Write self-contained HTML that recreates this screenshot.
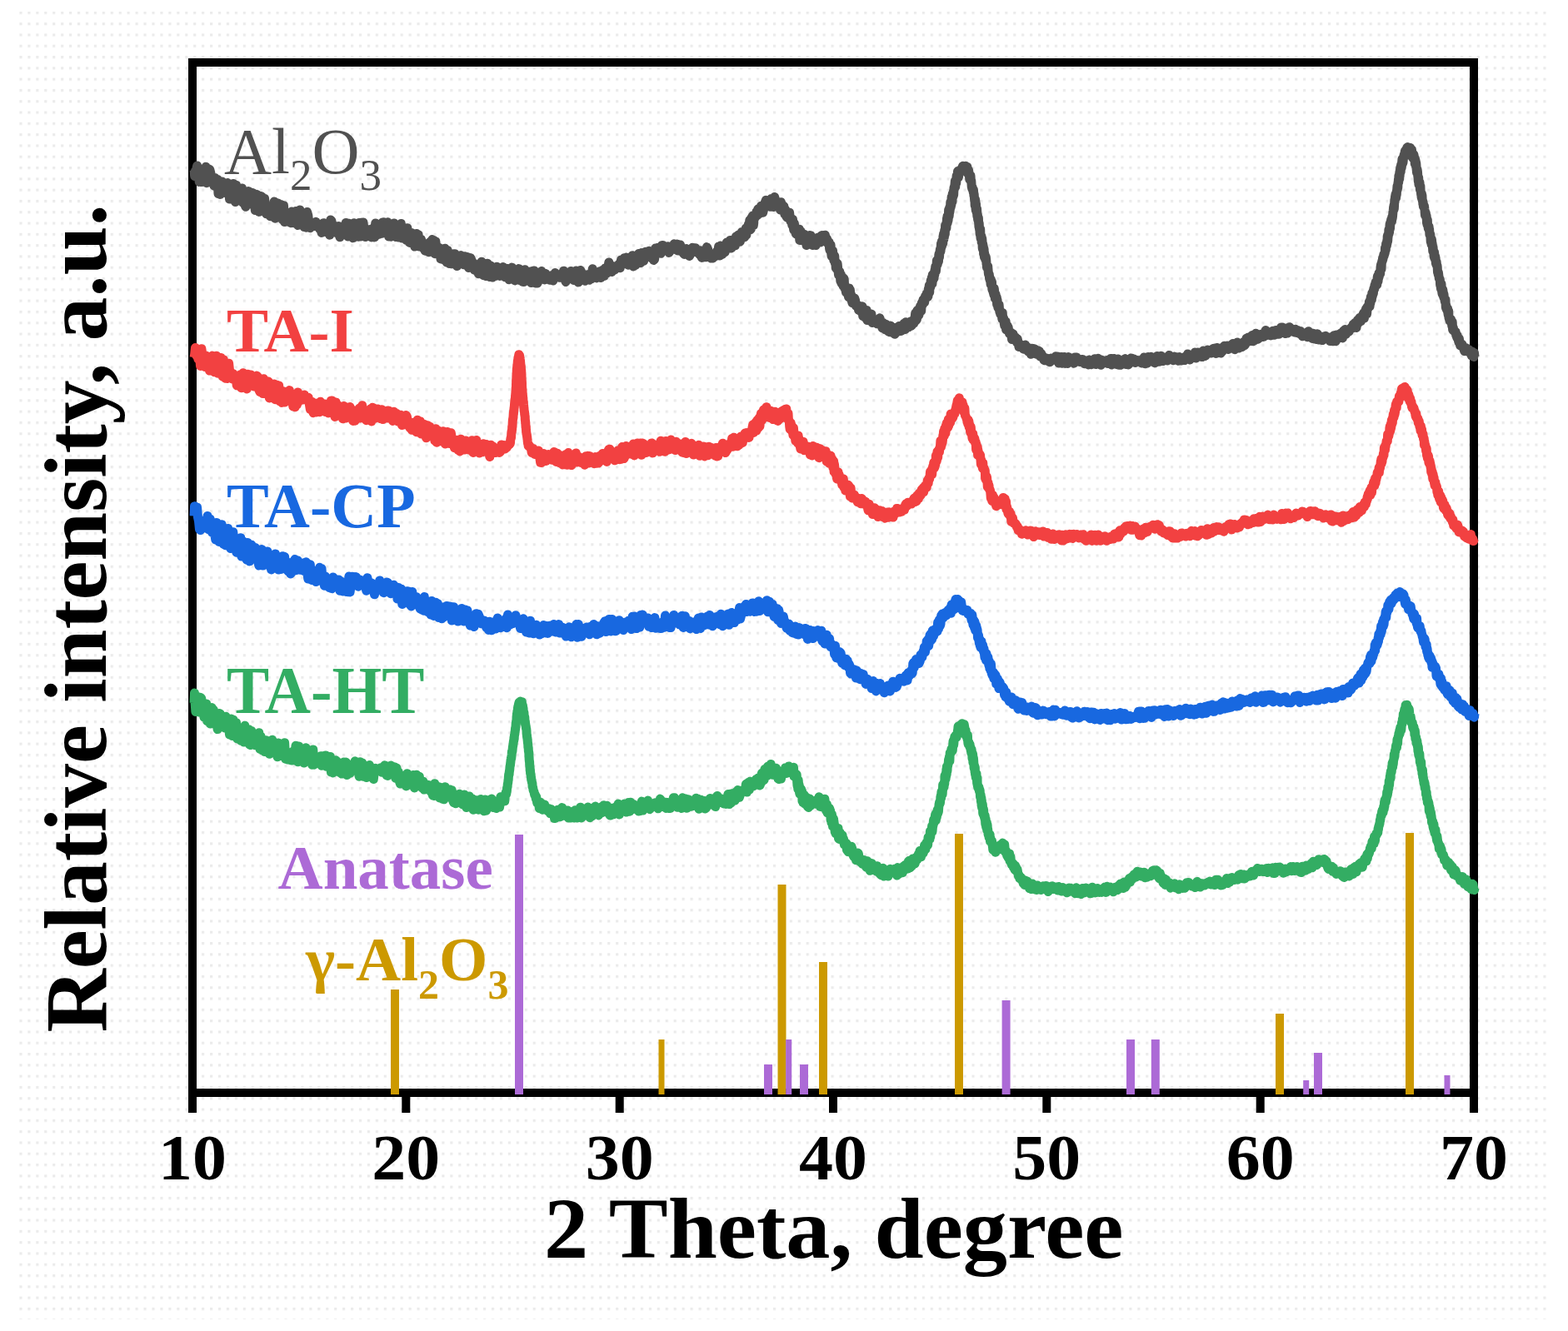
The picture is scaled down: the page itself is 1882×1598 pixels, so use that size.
<!DOCTYPE html>
<html><head><meta charset="utf-8"><style>
html,body{margin:0;padding:0;background:#fff;}
body{width:1882px;height:1598px;position:relative;overflow:hidden;}
svg{position:absolute;left:0;top:0;}
</style></head><body>
<svg width="1882" height="1598" viewBox="0 0 1882 1598">
<defs><pattern id="dots" x="3.5" y="0.5" width="9.94" height="13.3" patternUnits="userSpaceOnUse"><rect width="3.2" height="3.2" fill="#ebebeb"/></pattern></defs>
<rect x="18" y="14" width="1843" height="1570" fill="url(#dots)"/>
<rect x="231" y="75" width="1538" height="1237" fill="none" stroke="#000" stroke-width="10"/>
<rect x="226.0" y="1312" width="10" height="24" fill="#000"/>
<rect x="482.3" y="1312" width="10" height="24" fill="#000"/>
<rect x="738.7" y="1312" width="10" height="24" fill="#000"/>
<rect x="995.0" y="1312" width="10" height="24" fill="#000"/>
<rect x="1251.3" y="1312" width="10" height="24" fill="#000"/>
<rect x="1507.7" y="1312" width="10" height="24" fill="#000"/>
<rect x="1764.0" y="1312" width="10" height="24" fill="#000"/>
<rect x="469.0" y="1188" width="10" height="126" fill="#cc9900"/>
<rect x="790.5" y="1248" width="7" height="66" fill="#cc9900"/>
<rect x="933.5" y="1062" width="10" height="252" fill="#cc9900"/>
<rect x="983.0" y="1155" width="10" height="159" fill="#cc9900"/>
<rect x="1146.0" y="1001" width="10" height="313" fill="#cc9900"/>
<rect x="1531.0" y="1217" width="10" height="97" fill="#cc9900"/>
<rect x="1687.0" y="1000" width="10" height="314" fill="#cc9900"/>
<rect x="618.0" y="1002" width="10" height="312" fill="#ac6ad6"/>
<rect x="917.0" y="1278" width="10" height="36" fill="#ac6ad6"/>
<rect x="943.2" y="1248" width="7" height="66" fill="#ac6ad6"/>
<rect x="960.0" y="1278" width="10" height="36" fill="#ac6ad6"/>
<rect x="1202.6" y="1201" width="10" height="113" fill="#ac6ad6"/>
<rect x="1352.0" y="1248" width="10" height="66" fill="#ac6ad6"/>
<rect x="1381.8" y="1248" width="10" height="66" fill="#ac6ad6"/>
<rect x="1564.2" y="1297" width="7" height="17" fill="#ac6ad6"/>
<rect x="1577.0" y="1264" width="10" height="50" fill="#ac6ad6"/>
<rect x="1733.5" y="1291" width="7" height="23" fill="#ac6ad6"/>
<path d="M233.0 204.1L233.7 211.4 234.5 204.9 235.5 204.3 236.6 199.0 237.9 205.9 239.2 218.4 240.5 212.6 241.9 218.6 243.3 212.0 244.7 213.9 246.0 212.7 246.9 200.3 247.9 219.7 248.8 217.2 249.8 217.8 250.8 202.9 251.8 203.6 252.8 207.6 253.8 212.0 254.9 219.6 255.9 217.3 256.9 223.0 257.9 213.5 259.0 222.6 260.0 224.0 261.0 215.4 262.0 232.7 263.1 227.3 264.3 233.4 265.4 218.4 266.5 217.9 267.6 221.9 268.8 224.5 269.9 231.4 271.0 228.6 272.2 223.3 273.3 219.5 274.4 223.7 275.5 239.0 276.7 222.4 277.8 231.9 278.9 233.9 280.1 220.5 281.2 231.9 282.4 242.5 283.5 222.3 284.6 230.6 285.8 233.0 286.9 227.7 288.1 239.1 289.2 235.1 290.4 225.9 291.5 243.4 292.7 242.6 293.8 245.4 294.9 248.3 296.1 241.6 297.2 240.1 298.4 229.6 299.5 245.0 300.6 235.6 301.8 237.3 302.9 231.4 304.0 234.1 305.2 238.0 306.3 252.6 307.4 233.2 308.6 233.6 309.7 245.9 310.8 254.4 312.0 249.5 313.1 235.5 314.2 236.0 315.4 249.1 316.5 241.0 317.6 238.4 318.8 255.4 319.9 256.9 321.0 249.9 322.2 251.0 323.3 253.0 324.5 259.8 325.6 255.4 326.7 255.0 327.9 255.7 329.0 242.1 330.2 262.2 331.3 260.3 332.5 257.5 333.6 244.1 334.7 249.4 335.9 261.3 337.0 245.5 338.2 254.3 339.3 264.0 340.5 246.8 341.6 266.6 342.8 261.6 344.1 256.5 345.3 260.5 346.5 263.3 347.7 259.5 348.9 267.7 350.2 254.1 351.4 256.2 352.6 267.7 353.8 260.2 355.0 253.5 356.3 267.8 357.5 270.5 358.7 257.8 360.0 252.0 361.2 260.9 362.4 261.1 363.7 260.3 364.9 272.5 366.1 255.5 367.3 273.2 368.6 254.6 369.8 258.5 371.0 269.6 372.3 273.7 373.5 272.1 374.6 268.6 375.8 267.4 376.9 267.9 378.0 271.5 379.2 266.3 380.3 270.1 381.4 272.7 382.6 268.9 383.7 275.0 384.9 273.9 386.0 279.4 387.1 272.9 388.3 267.7 389.4 268.4 390.6 271.5 391.9 278.8 393.1 269.8 394.3 275.5 395.6 282.2 396.8 264.0 398.0 265.3 399.2 275.7 400.5 277.1 401.7 276.2 402.9 271.6 404.2 279.8 405.4 277.3 406.6 271.6 407.9 284.8 409.1 278.4 410.3 271.9 411.5 275.4 412.7 274.6 414.0 275.9 415.2 267.4 416.4 273.0 417.6 284.0 418.9 268.2 420.1 276.3 421.3 283.7 422.5 283.0 423.7 285.8 425.0 267.7 426.2 274.2 427.4 274.2 428.6 281.0 429.9 284.3 431.1 267.4 432.3 284.1 433.5 267.2 434.7 281.0 436.0 267.1 437.2 277.3 438.4 284.5 439.7 274.9 440.9 277.3 442.1 281.6 443.4 277.0 444.6 275.3 445.8 284.9 447.0 283.4 448.3 273.9 449.5 284.9 450.7 267.9 452.0 282.5 453.2 274.1 454.4 276.9 455.7 280.9 456.9 277.4 458.1 280.3 459.3 266.9 460.5 266.8 461.8 279.8 463.0 268.7 464.2 268.2 465.4 266.7 466.7 284.1 467.9 280.6 469.1 284.2 470.3 269.1 471.5 275.7 472.8 267.9 474.0 281.2 475.2 284.6 476.4 270.0 477.7 284.9 478.9 283.3 480.1 275.6 481.3 268.5 482.5 286.1 483.8 277.2 485.0 274.3 486.0 281.6 487.0 282.2 488.0 288.6 488.9 273.7 489.9 289.2 490.9 290.7 491.8 291.5 492.8 282.5 493.8 279.5 494.8 292.3 495.8 286.9 496.8 287.8 497.8 296.1 498.9 286.6 499.9 280.5 501.0 287.0 502.1 281.7 503.2 296.1 504.3 293.2 505.5 287.3 506.6 291.8 507.8 297.8 509.0 293.0 510.2 301.2 511.4 292.8 512.6 300.5 513.8 302.3 515.0 302.7 516.3 290.3 517.5 301.2 518.7 287.6 520.0 289.3 521.0 288.7 521.9 304.7 522.9 290.1 523.9 298.8 524.9 298.3 525.9 300.2 526.9 297.2 528.0 303.4 529.0 310.9 530.0 303.7 531.0 307.7 532.1 311.6 533.1 304.5 534.1 298.3 535.2 303.6 536.2 315.0 537.2 300.5 538.2 305.4 539.3 316.5 540.3 315.7 541.3 311.0 542.5 316.8 543.7 313.1 544.8 304.8 546.0 304.8 547.2 309.1 548.4 319.5 549.5 310.2 550.7 308.3 551.9 309.4 553.1 306.6 554.3 314.2 555.4 307.6 556.6 317.8 557.8 307.7 559.0 318.1 560.1 312.1 561.3 308.6 562.5 321.5 563.7 315.5 564.9 309.7 566.0 312.5 567.2 320.3 568.4 315.9 569.6 324.2 570.8 324.4 572.0 324.3 573.1 322.6 574.3 328.8 575.5 325.5 576.7 324.6 577.9 314.2 579.1 328.1 580.3 330.7 581.4 321.3 582.6 320.6 583.8 331.6 585.0 316.3 586.3 327.3 587.5 332.4 588.8 319.0 590.0 329.3 591.3 333.0 592.5 324.6 593.8 329.0 595.0 331.3 596.3 320.2 597.5 325.4 598.8 327.9 600.0 331.4 601.3 326.2 602.5 325.4 603.8 320.5 605.0 324.8 606.2 332.7 607.4 328.0 608.5 322.4 609.7 322.7 610.9 335.7 612.1 335.2 613.3 332.4 614.5 321.1 615.6 332.7 616.8 332.1 618.0 336.9 619.2 332.2 620.4 329.4 621.6 333.1 622.8 322.6 623.9 336.6 625.1 332.5 626.3 326.5 627.5 338.4 628.8 338.6 630.0 323.7 631.3 327.4 632.5 333.3 633.8 332.8 635.0 329.4 636.3 326.1 637.5 339.5 638.8 338.4 640.0 325.2 641.3 325.0 642.5 339.9 643.8 338.5 645.0 340.1 646.3 337.5 647.5 327.7 648.8 334.4 650.0 325.5 651.3 328.5 652.5 332.5 653.8 335.9 655.0 328.5 656.3 332.0 657.5 335.4 658.8 334.9 660.0 336.3 661.3 333.8 662.5 330.6 663.8 337.0 665.0 332.7 666.3 327.6 667.5 328.7 668.8 332.3 670.1 331.7 671.3 333.2 672.6 332.3 673.9 333.3 675.2 331.6 676.5 325.2 677.8 334.8 679.1 338.5 680.4 334.9 681.6 331.4 682.9 335.0 684.1 327.0 685.4 325.4 686.6 332.8 687.7 327.1 688.9 336.6 690.0 326.2 691.4 325.1 692.8 326.2 694.1 338.9 695.4 329.5 696.6 324.4 697.9 326.9 699.1 333.9 700.2 333.5 701.4 331.5 702.6 337.3 703.7 334.0 704.9 329.7 706.0 332.9 707.3 336.3 708.7 334.6 710.0 334.7 711.2 322.8 712.5 327.8 713.8 332.5 715.0 326.5 716.2 333.9 717.4 331.0 718.6 332.4 719.8 325.8 721.0 333.5 722.1 333.0 723.1 324.4 724.2 325.5 725.2 331.3 726.3 321.9 727.4 328.0 728.4 328.0 729.6 322.1 730.8 315.0 732.0 322.0 733.1 322.6 734.3 326.5 735.4 324.3 736.6 319.8 737.9 324.1 739.1 322.0 740.4 319.9 741.7 318.8 743.0 316.9 744.2 321.7 745.5 311.9 746.8 313.9 748.0 317.0 749.2 309.8 750.5 313.9 751.7 309.1 752.9 311.8 754.2 318.2 755.4 317.8 756.6 314.0 757.8 312.7 759.1 306.7 760.3 319.9 761.5 315.6 762.8 318.3 764.0 307.2 765.2 310.6 766.5 304.5 767.7 315.2 768.9 315.7 770.2 303.6 771.4 309.8 772.6 313.2 773.9 302.7 775.1 302.3 776.3 303.0 777.6 305.0 778.8 301.3 780.0 307.8 781.1 308.5 782.2 310.1 783.4 310.0 784.5 312.4 785.6 311.4 786.7 297.9 787.8 301.4 788.9 297.9 790.0 297.3 791.1 302.1 792.2 302.1 793.4 304.3 794.5 294.6 795.6 294.4 796.8 300.6 798.0 299.4 799.3 298.6 800.5 299.7 801.7 295.8 803.0 303.4 804.2 301.5 805.4 299.0 806.7 295.9 807.9 298.5 809.1 292.8 810.4 294.3 811.6 299.8 812.8 293.1 814.1 301.0 815.3 301.0 816.5 294.0 817.7 299.6 818.9 299.7 820.2 304.2 821.4 305.4 822.6 302.4 823.8 298.4 825.0 302.4 826.3 303.1 827.5 307.5 828.7 305.2 830.0 299.9 831.2 297.2 832.4 301.7 833.7 299.7 834.9 297.7 836.1 302.8 837.3 300.7 838.6 303.7 839.8 305.8 841.0 300.8 842.3 309.4 843.5 301.1 844.7 308.5 846.0 303.5 847.2 308.8 848.4 296.6 849.6 299.3 850.8 304.6 852.1 306.5 853.3 310.0 854.5 305.2 855.7 309.9 856.9 307.3 858.2 308.0 859.4 305.4 860.5 301.6 861.5 304.6 862.6 295.9 863.7 307.0 864.7 295.1 865.8 301.0 866.9 305.4 867.9 297.1 869.0 297.6 870.1 302.8 871.1 296.2 872.2 291.1 873.3 295.8 874.3 296.7 875.4 296.6 876.4 288.4 877.4 298.1 878.4 297.4 879.4 290.4 880.4 291.1 881.4 286.8 882.4 294.7 883.4 284.1 884.3 290.4 885.3 283.8 886.3 281.9 887.3 288.3 888.3 290.2 889.3 282.9 890.3 278.5 891.3 285.1 892.1 280.0 892.8 280.9 893.6 284.8 894.4 283.3 895.2 274.0 895.9 282.0 896.7 274.7 897.5 277.6 898.3 269.3 899.1 271.4 899.8 264.2 900.6 275.8 901.4 274.8 902.1 261.2 902.9 260.0 903.6 259.0 904.4 270.3 905.1 261.0 905.8 262.1 906.5 259.9 907.2 260.0 908.0 254.0 908.9 258.5 909.7 251.0 910.5 255.8 911.2 256.6 912.0 256.3 912.8 251.7 913.5 247.3 914.3 251.6 915.0 247.4 915.7 255.2 916.5 251.9 917.2 246.6 917.9 244.0 918.6 242.2 919.3 240.3 920.0 242.7 921.3 245.1 922.5 245.5 923.6 245.2 924.7 248.3 925.9 238.4 927.0 242.0 928.3 248.5 929.6 236.5 931.0 240.9 931.7 244.8 932.5 245.3 933.2 247.1 934.0 244.6 934.9 248.3 935.7 247.5 936.5 251.9 937.4 242.8 938.3 245.5 939.1 250.9 940.0 246.8 940.9 247.7 941.8 257.1 942.7 251.8 943.5 259.3 944.4 260.9 945.3 259.9 946.2 262.0 947.0 260.1 947.6 255.3 948.3 262.3 948.9 265.6 949.6 261.8 950.2 265.0 950.8 270.3 951.5 263.4 952.1 272.1 952.8 276.2 953.4 268.5 954.0 273.2 954.7 272.9 955.3 280.9 956.0 277.5 956.6 281.5 957.2 274.8 957.9 279.2 958.5 280.3 959.2 275.2 959.8 288.4 960.4 287.6 961.1 277.8 961.7 288.4 962.4 284.8 963.0 288.2 964.2 288.7 965.5 281.5 966.7 287.1 968.0 294.6 969.2 285.9 970.5 283.8 971.7 282.6 973.0 282.7 974.2 290.2 975.4 294.5 976.6 290.5 977.8 289.6 979.0 294.6 980.3 286.1 981.6 285.3 982.9 291.1 984.2 291.0 985.5 283.3 986.8 282.5 988.1 289.5 989.3 289.4 990.4 282.3 991.5 287.7 992.6 286.6 993.5 292.2 994.1 290.1 994.6 291.1 995.1 290.6 995.6 298.4 996.0 300.3 996.4 293.7 996.7 300.7 997.1 294.2 997.4 299.4 997.7 304.0 998.1 307.7 998.4 301.2 998.8 304.1 999.2 306.8 999.6 301.2 1000.0 308.7 1000.5 306.8 1000.9 312.8 1001.3 306.7 1001.7 307.2 1002.1 314.4 1002.5 316.6 1002.9 313.9 1003.3 321.9 1003.8 317.5 1004.2 317.1 1004.6 323.5 1005.1 316.4 1005.5 320.3 1006.0 324.7 1006.5 330.0 1007.0 326.4 1007.4 329.8 1007.9 326.5 1008.4 332.2 1008.9 337.8 1009.4 329.9 1009.9 340.1 1010.5 332.3 1011.0 336.6 1011.5 338.4 1012.1 343.5 1012.6 334.0 1013.2 335.1 1013.7 344.9 1014.3 346.9 1014.9 347.2 1015.5 351.2 1016.1 347.4 1016.7 348.8 1017.3 353.0 1017.9 351.5 1018.5 356.6 1019.1 346.1 1019.7 351.2 1020.4 348.2 1021.0 358.8 1021.7 354.3 1022.3 361.3 1023.0 363.8 1023.6 359.0 1024.3 358.9 1025.0 358.7 1025.8 358.2 1026.5 360.2 1027.3 367.1 1028.1 365.3 1028.9 366.5 1029.8 366.4 1030.6 372.4 1031.5 371.5 1032.3 369.5 1033.2 374.2 1034.0 371.4 1034.9 367.8 1035.7 379.6 1036.6 376.9 1037.5 371.4 1038.3 381.4 1039.2 378.9 1040.1 372.5 1040.9 384.5 1041.8 381.1 1042.6 384.3 1043.7 382.0 1044.8 381.2 1045.9 377.1 1047.0 387.6 1048.2 384.0 1049.3 383.2 1050.4 386.5 1051.5 385.8 1052.6 388.8 1053.7 384.7 1054.8 386.6 1055.9 381.8 1057.0 385.8 1058.0 391.0 1059.0 393.9 1060.0 387.4 1061.2 389.1 1062.4 395.7 1063.5 389.5 1064.6 394.8 1065.7 397.6 1066.8 393.1 1067.8 398.8 1068.9 391.1 1069.9 395.6 1070.9 394.8 1072.0 396.0 1073.0 400.6 1074.0 401.3 1075.3 393.3 1076.6 393.7 1077.8 398.1 1079.0 391.5 1080.2 397.6 1081.4 397.5 1082.6 393.5 1083.8 396.2 1085.1 388.2 1086.4 395.6 1087.2 386.8 1088.1 388.5 1089.0 388.4 1089.8 388.3 1090.7 392.8 1091.6 388.8 1092.5 386.1 1093.4 389.0 1094.3 391.0 1095.2 385.0 1096.1 385.5 1097.0 388.0 1097.9 383.0 1098.7 375.8 1099.6 384.7 1100.4 383.5 1101.0 372.6 1101.6 376.5 1102.2 377.4 1102.8 378.6 1103.4 376.3 1104.0 371.5 1104.6 367.4 1105.1 370.8 1105.7 373.4 1106.3 363.9 1106.9 362.9 1107.4 365.8 1108.0 359.7 1108.6 362.5 1109.1 360.6 1109.7 362.9 1110.2 357.1 1110.7 355.2 1111.2 356.0 1111.7 356.1 1112.2 352.5 1112.7 354.0 1113.2 355.8 1113.6 356.4 1114.0 355.6 1114.4 346.5 1114.9 346.8 1115.3 342.4 1115.7 351.0 1116.1 342.1 1116.4 343.7 1116.8 344.7 1117.2 336.7 1117.6 342.2 1117.9 339.1 1118.3 333.2 1118.6 338.1 1119.0 340.4 1119.3 329.7 1119.7 336.6 1120.0 333.1 1120.4 333.0 1120.7 331.7 1121.1 333.7 1121.4 326.8 1121.8 329.9 1122.1 323.7 1122.4 327.0 1122.8 319.8 1123.1 321.4 1123.4 325.5 1123.8 321.2 1124.1 317.7 1124.4 312.7 1124.7 312.9 1125.0 315.5 1125.3 317.2 1125.6 314.1 1125.9 313.2 1126.2 309.9 1126.5 313.6 1126.8 306.1 1127.2 304.3 1127.5 308.6 1127.8 304.2 1128.1 301.6 1128.4 299.2 1128.7 299.3 1129.0 301.5 1129.2 299.4 1129.5 292.2 1129.8 297.3 1130.1 295.2 1130.4 289.5 1130.6 295.2 1130.9 289.9 1131.2 288.5 1131.5 291.7 1131.8 292.2 1132.0 283.6 1132.3 286.7 1132.6 280.5 1132.9 287.4 1133.2 279.5 1133.4 284.7 1133.7 276.5 1134.0 280.8 1134.3 281.3 1134.6 270.5 1134.8 272.4 1135.1 274.7 1135.4 271.2 1135.7 267.9 1135.9 274.0 1136.2 268.3 1136.5 262.1 1136.7 268.9 1137.0 259.6 1137.3 267.5 1137.6 259.8 1137.8 261.3 1138.1 264.2 1138.4 258.7 1138.6 252.3 1138.9 251.1 1139.2 259.0 1139.4 256.1 1139.7 249.0 1140.0 254.1 1140.2 251.5 1140.5 250.9 1140.8 242.5 1141.0 244.8 1141.3 248.2 1141.6 246.3 1141.9 245.7 1142.1 236.5 1142.4 240.6 1142.7 240.6 1143.0 242.2 1143.2 232.6 1143.5 233.7 1143.8 233.7 1144.1 235.6 1144.4 229.2 1144.7 233.9 1145.0 225.3 1145.2 227.9 1145.5 223.6 1145.8 224.9 1146.1 220.4 1146.4 217.0 1146.7 224.6 1146.9 220.4 1147.2 216.0 1147.5 217.7 1147.8 219.5 1148.1 211.1 1148.4 213.4 1148.7 214.8 1148.9 213.9 1149.2 209.8 1149.5 205.6 1150.4 212.9 1151.3 207.8 1152.1 205.3 1153.0 203.3 1153.9 204.7 1154.8 201.7 1155.6 199.3 1156.5 200.3 1157.4 200.8 1158.2 200.9 1159.1 199.3 1160.0 206.5 1160.9 200.4 1161.8 208.7 1162.6 204.3 1163.5 211.6 1163.8 215.6 1164.0 212.6 1164.2 210.0 1164.5 213.8 1164.8 215.1 1165.0 211.0 1165.2 214.4 1165.5 218.3 1165.8 217.1 1166.0 220.3 1166.2 223.8 1166.5 225.2 1166.8 226.9 1167.0 227.0 1167.2 225.1 1167.5 227.4 1167.8 227.8 1168.0 229.0 1168.2 230.8 1168.5 228.3 1168.8 233.0 1169.0 235.4 1169.2 233.3 1169.5 238.2 1169.8 241.5 1170.0 240.3 1170.2 246.8 1170.5 239.1 1170.7 243.9 1170.9 241.3 1171.1 250.5 1171.3 252.6 1171.5 244.7 1171.7 250.8 1171.9 253.4 1172.1 251.6 1172.4 255.9 1172.6 250.6 1172.8 259.4 1173.0 258.9 1173.2 258.9 1173.4 257.9 1173.6 263.5 1173.8 260.7 1174.0 264.5 1174.2 263.1 1174.4 261.7 1174.6 267.3 1174.8 269.4 1175.0 272.6 1175.2 267.9 1175.4 272.2 1175.6 275.7 1175.9 275.2 1176.1 280.4 1176.3 281.6 1176.5 275.0 1176.7 275.0 1176.9 283.7 1177.1 286.2 1177.3 286.2 1177.5 286.9 1177.7 283.1 1178.0 284.0 1178.2 291.1 1178.5 285.9 1178.7 286.0 1178.9 288.2 1179.2 297.5 1179.4 298.8 1179.7 293.1 1179.9 294.2 1180.2 298.9 1180.4 296.6 1180.6 305.0 1180.9 301.5 1181.1 299.1 1181.4 308.7 1181.6 303.3 1181.8 307.4 1182.1 307.8 1182.3 307.9 1182.6 311.3 1182.8 308.8 1183.1 308.0 1183.3 309.1 1183.5 310.2 1183.8 313.1 1184.0 316.8 1184.3 318.1 1184.5 321.0 1184.8 320.8 1185.1 318.9 1185.4 320.5 1185.7 319.8 1186.1 324.9 1186.4 328.4 1186.7 329.8 1187.0 328.7 1187.3 329.6 1187.6 334.7 1187.9 332.6 1188.2 336.3 1188.5 336.8 1188.8 336.6 1189.1 341.4 1189.5 336.1 1189.8 338.0 1190.1 337.5 1190.5 338.7 1190.8 347.0 1191.1 348.2 1191.5 345.1 1191.8 348.1 1192.2 351.4 1192.5 351.3 1192.9 353.8 1193.3 346.4 1193.6 349.6 1194.0 354.6 1194.4 358.6 1194.7 355.7 1195.1 353.5 1195.5 356.4 1195.9 356.5 1196.3 357.0 1196.6 365.5 1197.0 360.1 1197.4 363.5 1197.8 368.9 1198.2 369.9 1198.6 368.1 1199.1 365.9 1199.5 370.6 1199.9 374.7 1200.3 373.7 1200.7 377.0 1201.1 374.2 1201.5 376.8 1202.0 375.5 1202.4 378.9 1202.8 382.9 1203.2 375.5 1203.6 380.8 1204.0 383.0 1204.5 381.5 1204.9 383.6 1205.3 388.5 1205.8 391.3 1206.2 390.3 1206.7 390.4 1207.2 386.2 1207.6 395.9 1208.1 392.9 1208.6 393.6 1209.2 391.0 1209.7 395.6 1210.2 393.1 1210.8 398.0 1211.5 400.5 1212.2 400.2 1213.0 402.1 1213.7 399.3 1214.5 407.5 1215.3 402.1 1216.1 401.0 1217.0 405.6 1217.8 404.6 1218.6 404.7 1219.5 407.8 1220.4 410.9 1221.2 406.8 1222.1 411.1 1223.0 416.5 1223.9 415.4 1224.7 413.4 1225.6 415.0 1226.5 414.9 1227.5 415.9 1228.6 419.2 1229.7 417.2 1230.7 414.0 1231.8 418.7 1232.9 416.4 1234.0 421.9 1235.1 418.3 1236.2 421.3 1237.4 425.3 1238.5 418.3 1239.6 418.5 1240.7 418.5 1241.8 419.0 1242.9 419.5 1244.0 425.2 1245.2 422.5 1246.3 421.0 1247.4 421.6 1248.5 428.1 1249.5 424.2 1250.6 426.0 1251.7 428.7 1252.8 432.2 1253.9 432.7 1255.1 432.4 1256.3 430.0 1257.5 430.5 1258.8 434.3 1260.2 434.7 1261.6 430.0 1262.7 432.7 1263.8 432.3 1264.9 431.7 1266.0 430.1 1267.2 427.8 1268.4 430.2 1269.6 428.0 1270.8 436.0 1272.1 433.9 1273.3 428.4 1274.6 436.3 1275.9 435.2 1277.2 428.4 1278.5 436.4 1279.9 435.0 1281.2 436.5 1282.5 428.6 1283.9 434.3 1285.2 434.0 1286.6 433.4 1287.9 433.3 1289.0 436.2 1290.2 429.0 1291.3 429.0 1292.4 429.1 1293.5 431.4 1294.7 431.3 1295.8 434.5 1297.0 434.2 1298.1 433.5 1299.3 431.4 1300.4 432.2 1301.6 436.7 1302.8 436.2 1304.0 434.1 1305.2 432.8 1306.4 437.9 1307.6 432.1 1308.9 436.1 1310.1 437.7 1311.4 433.3 1312.7 436.8 1314.0 430.7 1315.3 437.5 1316.6 434.9 1318.0 430.3 1319.1 436.4 1320.2 431.5 1321.3 438.3 1322.4 432.2 1323.6 433.8 1324.7 435.3 1325.9 433.3 1327.0 435.2 1328.2 432.6 1329.4 436.5 1330.6 434.4 1331.8 435.1 1333.0 430.4 1334.3 438.1 1335.5 434.5 1336.7 430.4 1338.0 434.7 1339.2 435.8 1340.5 437.7 1341.7 430.9 1343.0 438.3 1344.2 433.8 1345.4 438.2 1346.7 433.8 1347.9 436.3 1349.2 433.0 1350.4 430.6 1351.6 437.6 1352.9 436.9 1354.1 438.0 1355.3 436.7 1356.5 432.1 1357.7 429.9 1358.9 431.7 1360.1 431.6 1361.3 431.1 1362.5 435.4 1363.7 434.6 1364.9 432.6 1366.1 433.9 1367.3 432.8 1368.5 433.9 1369.7 435.5 1370.9 436.1 1372.1 430.8 1373.3 428.9 1374.5 436.7 1375.7 433.0 1376.9 436.1 1378.1 428.5 1379.3 431.3 1380.5 432.3 1381.6 428.2 1382.8 430.4 1384.0 434.2 1385.2 435.3 1386.4 435.7 1387.6 428.9 1388.8 427.6 1390.0 433.1 1391.2 434.3 1392.4 431.8 1393.6 427.2 1394.8 433.5 1396.0 433.4 1397.3 432.5 1398.5 429.2 1399.7 431.5 1401.0 433.0 1402.2 428.6 1403.4 426.4 1404.7 431.2 1405.9 431.6 1407.1 430.1 1408.4 432.7 1409.6 428.0 1410.8 429.5 1412.1 428.7 1413.3 431.3 1414.5 433.3 1415.7 428.5 1417.0 433.1 1418.2 433.0 1419.4 431.4 1420.7 430.7 1421.9 432.6 1423.1 428.0 1424.4 428.0 1425.6 424.9 1426.8 429.6 1428.1 431.9 1429.3 429.4 1430.5 428.9 1431.8 426.8 1433.0 427.7 1434.2 423.1 1435.4 430.1 1436.7 425.3 1437.9 422.9 1439.2 423.7 1440.4 423.3 1441.7 428.3 1443.0 428.6 1444.3 421.1 1445.6 427.7 1446.9 427.3 1448.2 422.4 1449.5 420.0 1450.8 421.3 1452.1 421.3 1453.3 424.1 1454.6 421.6 1455.9 418.5 1457.1 422.9 1458.3 417.9 1459.6 424.4 1460.7 417.5 1461.9 418.8 1463.1 418.0 1464.2 418.7 1465.3 424.0 1466.4 422.5 1467.4 421.5 1468.4 420.3 1469.4 415.2 1470.4 417.2 1471.3 416.9 1473.0 415.1 1474.6 419.4 1476.1 415.1 1477.4 414.8 1478.7 413.5 1479.9 412.5 1481.0 418.0 1482.1 419.7 1483.1 416.1 1484.1 412.1 1485.1 411.0 1486.1 415.1 1487.1 418.0 1488.1 414.7 1489.2 416.3 1490.4 416.8 1491.5 416.0 1492.6 410.5 1493.8 414.7 1494.9 413.2 1496.0 406.3 1497.1 408.3 1498.3 405.1 1499.4 408.0 1500.5 409.5 1501.6 403.8 1502.8 402.6 1503.9 409.8 1505.0 406.5 1506.1 408.7 1507.2 400.3 1508.4 407.1 1509.5 407.2 1510.7 406.8 1511.9 401.8 1513.1 402.9 1514.3 401.2 1515.5 404.5 1516.7 404.3 1517.9 401.0 1519.1 396.5 1520.3 402.5 1521.5 398.4 1522.7 401.6 1523.9 400.2 1525.1 403.0 1526.3 402.5 1527.5 397.3 1528.7 399.6 1530.0 402.2 1531.3 396.4 1532.5 399.2 1533.8 401.3 1535.1 401.3 1536.3 398.9 1537.6 393.2 1538.9 393.0 1540.2 397.6 1541.4 397.9 1542.7 400.5 1544.0 393.9 1545.3 400.1 1546.5 398.9 1547.8 392.7 1549.0 394.2 1550.2 397.4 1551.4 395.5 1552.6 396.8 1553.8 398.9 1555.0 395.2 1556.2 399.5 1557.3 396.4 1558.5 397.0 1559.7 400.7 1560.9 397.5 1562.1 400.5 1563.3 403.8 1564.5 400.3 1565.7 400.1 1566.9 403.1 1568.1 399.9 1569.3 404.7 1570.5 397.7 1571.7 403.8 1572.9 400.5 1574.1 399.9 1575.3 406.5 1576.4 400.3 1577.6 407.0 1578.8 405.4 1580.0 407.5 1581.2 400.8 1582.4 407.8 1583.6 408.1 1584.8 404.1 1586.0 404.2 1587.2 408.6 1588.5 405.5 1589.7 403.8 1591.0 403.3 1592.3 406.7 1593.6 406.5 1594.9 406.2 1596.2 409.6 1597.5 404.8 1598.7 407.3 1599.9 409.8 1601.1 402.8 1602.2 409.1 1603.3 409.7 1604.3 401.9 1605.2 402.2 1606.6 402.0 1607.9 400.9 1608.9 405.6 1609.8 399.7 1610.7 404.3 1611.5 405.9 1612.4 397.3 1613.4 399.4 1614.5 395.6 1615.4 401.3 1616.3 396.1 1617.2 396.9 1618.2 397.3 1619.1 398.2 1620.1 394.8 1621.1 395.3 1622.2 392.9 1623.2 394.2 1624.2 389.4 1625.2 392.4 1626.2 387.5 1627.2 388.9 1628.0 393.5 1628.7 389.1 1629.5 384.1 1630.3 387.9 1631.1 383.2 1631.9 381.4 1632.7 382.1 1633.5 385.6 1634.3 383.6 1635.1 381.1 1635.9 377.5 1636.6 376.0 1637.4 382.1 1638.1 378.0 1638.7 373.2 1639.4 371.2 1640.0 370.1 1640.6 376.8 1641.1 368.3 1641.6 370.5 1642.1 370.2 1642.5 367.9 1643.0 366.4 1643.4 362.3 1643.8 361.7 1644.1 367.6 1644.5 360.2 1644.9 363.9 1645.3 356.3 1645.6 358.0 1646.0 358.5 1646.4 359.6 1646.8 351.8 1647.2 355.8 1647.6 354.0 1648.0 349.4 1648.4 352.0 1648.8 346.7 1649.2 345.8 1649.6 347.1 1650.0 342.1 1650.4 344.5 1650.8 340.6 1651.2 338.6 1651.6 340.0 1652.0 342.4 1652.4 337.6 1652.8 341.5 1653.2 332.8 1653.6 331.2 1654.0 337.6 1654.4 333.6 1654.7 334.2 1655.0 327.7 1655.4 331.6 1655.7 328.8 1656.0 328.8 1656.3 325.7 1656.7 328.2 1657.0 321.3 1657.3 319.1 1657.7 317.0 1658.0 323.2 1658.3 316.2 1658.7 314.0 1659.0 313.1 1659.3 313.4 1659.6 309.7 1659.9 311.4 1660.2 309.1 1660.5 308.1 1660.8 305.6 1661.1 307.5 1661.4 304.8 1661.7 305.4 1662.0 304.5 1662.3 303.6 1662.5 297.5 1662.8 298.4 1663.1 296.4 1663.3 300.0 1663.6 292.5 1663.8 293.0 1664.0 293.0 1664.3 291.7 1664.5 294.5 1664.7 288.9 1665.0 292.0 1665.2 284.0 1665.4 282.8 1665.7 289.1 1665.9 285.5 1666.1 284.4 1666.4 282.1 1666.6 282.0 1666.9 275.5 1667.1 280.9 1667.3 275.2 1667.6 278.7 1667.8 274.7 1668.1 269.5 1668.3 268.3 1668.5 274.4 1668.8 269.4 1669.0 267.4 1669.2 268.2 1669.5 265.0 1669.7 263.5 1670.0 264.3 1670.2 263.3 1670.5 265.5 1670.7 260.6 1670.9 263.1 1671.2 261.9 1671.4 260.7 1671.6 258.9 1671.9 254.8 1672.1 253.6 1672.4 251.5 1672.6 248.5 1672.8 249.3 1673.0 246.4 1673.3 251.0 1673.5 247.6 1673.7 243.4 1673.9 239.7 1674.1 242.1 1674.3 239.7 1674.5 236.4 1674.8 235.0 1675.0 233.4 1675.2 237.7 1675.4 234.5 1675.6 237.3 1675.8 232.1 1676.1 230.5 1676.3 233.5 1676.5 228.9 1676.7 227.7 1676.9 224.8 1677.1 222.9 1677.3 227.4 1677.6 225.4 1677.8 225.0 1678.0 218.9 1678.2 218.8 1678.5 214.8 1678.7 219.1 1678.9 211.0 1679.2 215.3 1679.4 215.6 1679.6 214.8 1679.8 206.8 1680.1 211.7 1680.3 204.9 1680.5 203.5 1680.8 200.8 1681.0 206.9 1681.2 206.0 1681.5 199.2 1681.7 197.5 1681.9 197.7 1682.2 201.4 1682.4 199.6 1682.7 193.9 1683.0 190.7 1683.2 191.5 1683.5 196.3 1684.0 194.9 1684.6 188.6 1685.2 185.8 1685.8 184.9 1686.4 181.3 1687.0 186.6 1687.6 179.4 1688.2 185.1 1688.9 177.2 1689.5 176.6 1690.1 181.0 1690.7 177.7 1691.3 182.5 1691.9 180.5 1692.6 177.4 1693.2 183.7 1693.8 185.3 1694.5 180.0 1695.1 188.9 1695.7 188.0 1696.3 190.2 1696.9 185.6 1697.5 188.8 1698.0 191.6 1698.3 196.9 1698.5 190.7 1698.8 192.8 1699.1 192.8 1699.3 196.9 1699.5 199.8 1699.8 196.1 1700.0 199.3 1700.2 203.9 1700.5 207.4 1700.7 206.9 1700.9 205.2 1701.1 203.8 1701.4 205.8 1701.6 207.9 1701.8 211.7 1702.0 212.4 1702.3 217.6 1702.5 216.0 1702.7 213.1 1702.9 221.4 1703.2 221.7 1703.4 220.3 1703.6 219.0 1703.9 218.6 1704.1 220.6 1704.4 227.7 1704.6 223.7 1704.9 223.6 1705.1 229.3 1705.4 230.6 1705.6 233.0 1705.9 234.4 1706.2 237.4 1706.4 232.3 1706.7 239.1 1706.9 234.3 1707.2 240.7 1707.4 240.3 1707.7 241.7 1707.9 245.1 1708.2 243.3 1708.4 248.0 1708.7 248.5 1708.9 247.4 1709.2 246.5 1709.4 247.2 1709.7 249.1 1709.9 251.3 1710.2 253.1 1710.4 258.2 1710.7 257.6 1711.0 259.2 1711.2 255.4 1711.5 257.1 1711.7 259.5 1712.0 262.2 1712.2 259.7 1712.5 267.9 1712.8 263.5 1713.0 269.8 1713.3 263.8 1713.5 268.8 1713.8 270.9 1714.0 271.9 1714.3 274.3 1714.6 274.6 1714.8 275.4 1715.1 272.3 1715.3 275.2 1715.6 274.8 1715.9 281.7 1716.1 281.9 1716.4 281.6 1716.7 280.9 1716.9 282.9 1717.2 289.7 1717.4 290.9 1717.7 288.1 1718.0 293.3 1718.2 286.9 1718.5 288.1 1718.8 291.7 1719.0 291.7 1719.3 293.9 1719.5 297.4 1719.8 301.8 1720.1 297.2 1720.3 300.6 1720.6 302.5 1720.8 302.8 1721.1 306.9 1721.4 309.1 1721.6 302.7 1721.9 308.2 1722.1 308.1 1722.4 311.2 1722.6 307.6 1722.9 308.8 1723.1 310.0 1723.4 316.6 1723.7 316.8 1723.9 317.6 1724.2 314.8 1724.4 318.6 1724.7 318.6 1724.9 318.3 1725.2 320.5 1725.5 326.6 1725.7 327.4 1726.0 326.8 1726.2 329.7 1726.5 327.4 1726.8 330.6 1727.0 331.7 1727.3 334.4 1727.5 333.7 1727.8 334.6 1728.0 335.8 1728.3 335.4 1728.6 342.3 1728.8 341.3 1729.1 342.2 1729.4 345.9 1729.7 347.1 1730.0 340.7 1730.3 347.9 1730.6 349.6 1730.9 351.9 1731.2 353.1 1731.5 352.7 1731.8 348.0 1732.1 350.1 1732.4 354.8 1732.7 356.7 1733.0 353.2 1733.3 356.4 1733.6 357.6 1734.0 360.2 1734.3 362.2 1734.6 361.6 1735.0 359.9 1735.3 368.6 1735.6 369.9 1735.9 366.9 1736.3 371.5 1736.6 370.9 1736.9 372.7 1737.3 373.3 1737.6 370.6 1737.9 375.8 1738.3 378.4 1738.7 373.8 1739.0 381.6 1739.4 382.8 1739.8 384.1 1740.1 385.3 1740.5 384.9 1740.9 382.8 1741.3 383.2 1741.6 383.7 1742.0 387.6 1742.4 388.3 1742.8 391.6 1743.2 386.8 1743.6 395.5 1744.0 396.6 1744.4 393.8 1744.8 397.0 1745.2 397.4 1745.7 398.1 1746.2 397.8 1746.7 399.3 1747.2 398.4 1747.7 402.6 1748.2 403.1 1748.7 405.3 1749.2 402.9 1749.7 406.7 1750.3 407.9 1750.8 410.6 1751.4 406.6 1752.1 412.2 1752.7 415.0 1753.4 414.8 1754.2 412.9 1755.0 413.5 1755.8 415.2 1756.8 419.1 1757.8 421.7 1758.8 418.4 1759.9 417.8 1761.0 421.9 1762.1 422.3 1763.2 419.8 1764.3 421.2 1765.3 423.9 1766.3 427.1 1767.2 422.1 1768.1 423.3 1768.8 428.5 1769.5 423.8 1770.0 428.3" fill="none" stroke="#515151" stroke-width="11" stroke-linejoin="round" stroke-linecap="butt"/>
<path d="M233.0 429.2L233.7 425.3 234.5 417.4 235.5 426.6 236.6 424.7 237.9 431.3 239.2 421.2 240.5 439.4 241.9 418.8 243.3 429.1 244.7 431.4 246.0 440.5 247.1 426.9 248.1 437.6 249.2 428.1 250.4 440.1 251.5 445.1 252.7 430.9 253.8 438.7 255.0 427.1 256.2 444.3 257.4 446.8 258.5 437.0 259.7 427.3 260.9 441.2 262.0 448.3 263.1 448.3 264.1 446.5 265.2 429.4 266.2 435.0 267.3 452.2 268.3 431.7 269.4 452.6 270.4 454.3 271.5 450.9 272.5 454.6 273.6 443.0 274.6 436.2 275.7 446.4 276.7 446.3 277.8 448.2 278.9 455.1 279.9 448.7 281.0 452.1 282.1 454.7 283.1 451.8 284.2 462.8 285.3 456.7 286.3 454.4 287.4 452.6 288.5 449.7 289.5 465.7 290.6 457.2 291.7 447.7 292.7 452.4 293.8 456.3 295.0 454.3 296.3 467.0 297.5 449.2 298.7 462.8 299.9 460.3 301.1 449.9 302.4 459.9 303.6 459.0 304.8 464.0 306.0 456.7 307.3 463.0 308.5 451.1 309.7 452.8 310.8 468.1 312.0 470.6 313.1 462.8 314.2 458.7 315.4 472.6 316.5 454.8 317.6 459.0 318.8 471.2 319.9 471.6 321.0 459.0 322.2 457.9 323.3 478.0 324.5 470.0 325.6 462.3 326.7 470.2 327.9 477.3 329.0 460.9 330.2 479.7 331.3 477.2 332.5 462.2 333.6 478.2 334.7 462.9 335.9 481.8 337.0 476.4 338.2 483.4 339.3 469.4 340.5 474.5 341.6 483.0 342.7 470.4 343.9 470.3 345.0 473.2 346.1 475.9 347.3 468.6 348.4 481.0 349.6 481.9 350.7 478.7 351.8 488.0 353.0 476.4 354.1 488.8 355.2 475.6 356.4 485.8 357.5 471.0 358.6 482.4 359.8 480.0 360.9 478.0 362.1 477.6 363.2 480.0 364.4 477.7 365.5 474.1 366.6 479.5 367.8 480.3 368.9 480.8 370.1 477.2 371.2 484.4 372.4 491.6 373.5 484.1 374.7 482.5 376.0 495.7 377.2 493.7 378.4 493.3 379.6 495.0 380.8 484.0 382.1 485.5 383.3 494.7 384.5 482.3 385.7 485.6 386.9 489.3 388.2 489.4 389.4 484.9 390.5 494.4 391.7 486.2 392.8 493.1 394.0 496.0 395.1 493.4 396.3 494.4 397.4 481.1 398.5 480.9 399.7 485.9 400.8 494.3 402.0 500.4 403.1 482.9 404.3 494.4 405.4 486.3 406.6 487.6 407.9 491.2 409.1 498.6 410.3 495.5 411.5 502.8 412.7 487.6 414.0 501.4 415.2 502.0 416.4 496.1 417.6 499.3 418.9 492.1 420.1 488.5 421.3 493.5 422.5 491.9 423.7 505.4 425.0 493.0 426.2 505.2 427.4 497.6 428.6 498.3 429.9 501.2 431.1 490.3 432.3 502.1 433.5 498.2 434.7 486.7 436.0 499.7 437.2 499.5 438.4 498.9 439.7 504.7 440.9 493.3 442.1 500.1 443.4 502.1 444.6 491.0 445.8 505.9 447.0 489.3 448.3 489.7 449.5 502.3 450.7 491.5 452.0 498.5 453.2 491.0 454.4 500.3 455.7 492.3 456.9 502.6 458.1 491.8 459.3 503.6 460.5 498.9 461.8 501.3 463.0 500.6 464.2 502.1 465.4 492.9 466.7 493.1 467.9 502.0 469.1 495.7 470.3 499.2 471.5 505.4 472.8 494.3 474.0 497.9 475.2 499.2 476.4 496.5 477.7 506.1 478.9 503.3 480.1 499.0 481.3 498.3 482.5 510.6 483.8 501.2 485.0 509.9 486.1 509.4 487.3 498.5 488.4 500.0 489.6 507.6 490.7 510.3 491.9 513.6 493.0 514.2 494.1 516.2 495.3 507.4 496.4 509.0 497.6 516.0 498.7 508.6 499.9 518.8 501.0 504.2 502.1 517.2 503.3 512.4 504.5 505.9 505.6 521.0 506.8 517.3 508.0 516.0 509.2 509.5 510.3 514.1 511.5 525.8 512.6 513.0 513.7 510.8 514.8 513.9 515.9 512.2 517.0 519.6 518.2 518.4 519.4 515.6 520.6 516.5 521.8 529.1 523.0 514.8 524.1 531.2 525.3 520.2 526.4 517.1 527.5 529.3 528.5 528.2 529.6 518.4 530.6 530.0 531.9 517.8 533.2 520.1 534.4 533.1 535.6 524.6 536.7 518.5 537.8 529.6 539.0 532.4 540.1 526.8 541.3 519.7 542.4 525.8 543.4 531.1 544.5 534.0 545.5 537.7 546.6 529.3 547.7 528.7 548.7 532.2 549.8 540.5 550.8 528.0 551.9 541.9 553.1 527.2 554.3 540.0 555.4 531.4 556.6 538.5 557.8 540.1 559.0 529.0 560.1 535.8 561.3 537.8 562.5 540.0 563.8 531.0 565.1 530.5 566.5 528.8 567.8 543.4 569.1 534.7 570.4 534.4 571.8 528.4 573.1 541.4 574.3 533.1 575.5 544.0 576.7 542.2 577.9 538.0 579.0 542.8 580.2 532.8 581.4 537.9 582.6 537.0 583.8 533.5 585.1 541.1 586.5 540.4 587.8 548.5 589.1 534.2 590.4 537.6 591.8 536.1 593.1 538.7 594.4 543.6 595.6 543.4 596.8 541.1 598.1 538.2 599.3 543.4 600.6 542.4 601.8 534.0 602.9 538.7 604.0 534.4 605.0 534.6 606.2 539.0 607.3 538.0 608.3 537.4 609.2 534.4 610.1 535.0 610.8 532.8 611.5 533.5 611.9 533.0 612.2 532.7 612.5 531.6 612.7 528.1 612.9 527.4 613.1 525.6 613.3 525.9 613.5 525.7 613.6 523.7 613.8 520.0 614.0 518.5 614.1 517.5 614.3 518.5 614.4 516.8 614.5 516.1 614.6 516.1 614.7 512.5 614.9 511.3 615.0 512.6 615.1 510.2 615.2 507.6 615.3 505.7 615.4 504.4 615.6 503.0 615.7 503.1 615.8 501.6 616.0 501.2 616.1 498.8 616.2 497.1 616.3 496.0 616.4 497.2 616.6 493.1 616.7 493.7 616.8 492.3 616.9 491.8 617.1 489.4 617.2 489.2 617.3 488.4 617.5 486.0 617.6 484.3 617.7 483.4 617.9 481.2 618.0 480.8 618.1 479.4 618.2 478.8 618.4 478.8 618.5 477.5 618.6 474.3 618.7 474.3 618.8 472.7 618.9 472.1 619.0 470.0 619.1 469.0 619.2 466.9 619.3 465.2 619.3 465.9 619.4 465.0 619.5 463.0 619.5 461.4 619.6 459.9 619.6 457.8 619.7 455.5 619.8 456.5 619.8 454.7 619.9 452.5 619.9 450.8 620.0 452.2 620.0 448.0 620.1 449.8 620.1 448.0 620.2 447.6 620.3 444.1 620.3 443.9 620.4 442.3 620.5 442.2 620.7 439.9 620.9 437.5 621.1 437.9 621.3 434.0 621.5 432.7 621.7 432.5 621.9 429.8 622.1 428.8 622.4 428.8 622.6 427.2 622.8 425.7 623.0 426.9 623.2 426.9 623.4 429.1 623.6 427.0 623.9 430.5 624.1 429.5 624.3 431.4 624.5 432.9 624.7 435.3 624.9 437.7 625.1 439.9 625.3 439.4 625.5 443.5 625.6 444.2 625.7 444.9 625.7 444.1 625.8 447.2 625.9 447.1 625.9 448.8 626.0 449.2 626.0 451.5 626.1 453.3 626.1 454.5 626.2 454.2 626.2 456.9 626.3 458.5 626.4 457.2 626.4 461.1 626.5 459.4 626.5 462.9 626.6 464.3 626.7 466.3 626.7 466.5 626.8 466.9 626.9 467.8 627.0 468.5 627.1 472.1 627.2 472.1 627.3 472.7 627.4 475.4 627.5 475.1 627.6 476.8 627.8 478.0 627.9 481.3 628.0 482.6 628.1 482.1 628.3 482.1 628.4 485.2 628.5 486.2 628.7 487.8 628.8 489.3 628.9 489.5 629.1 492.2 629.2 493.3 629.3 493.7 629.4 494.1 629.6 495.2 629.7 497.7 629.8 496.6 629.9 498.8 630.0 499.1 630.2 500.0 630.3 503.7 630.4 504.4 630.6 505.9 630.7 508.2 630.8 507.0 630.9 509.6 631.0 511.3 631.1 513.1 631.3 512.0 631.4 515.3 631.5 515.8 631.6 518.2 631.7 519.2 631.9 519.6 632.0 521.5 632.2 521.4 632.4 522.4 632.5 523.9 632.7 524.5 632.9 527.0 633.0 526.8 633.2 529.5 633.4 531.3 633.7 533.1 633.9 532.6 634.2 535.6 634.5 534.1 635.1 536.2 635.8 535.4 636.5 537.1 637.3 537.7 638.2 543.5 639.1 542.6 640.0 538.7 640.8 544.6 641.7 545.4 642.5 543.7 643.4 545.5 644.4 544.9 645.4 544.4 646.4 541.1 647.5 547.5 648.7 555.3 650.0 555.5 651.3 547.1 652.7 544.5 654.1 547.4 655.5 553.5 656.8 550.6 658.2 545.5 659.5 550.9 660.9 547.9 662.2 552.2 663.5 547.2 664.8 542.6 666.2 550.3 667.5 554.4 668.8 544.1 670.1 549.8 671.4 555.5 672.8 548.5 674.1 546.9 675.4 557.9 676.7 555.4 678.1 556.6 679.4 545.4 680.7 558.2 682.0 543.6 683.4 548.1 684.7 555.4 686.0 558.6 687.3 545.9 688.7 547.5 690.0 552.4 691.3 543.9 692.6 555.0 693.8 554.5 695.1 548.6 696.3 554.3 697.7 555.6 699.1 552.7 700.7 553.8 701.8 558.2 703.0 547.8 704.2 551.4 705.4 547.3 706.7 556.1 708.0 547.6 709.3 552.5 710.7 550.4 712.0 549.8 713.4 556.7 714.7 548.6 716.0 556.3 717.2 553.5 718.4 556.0 719.6 547.4 720.8 553.5 722.1 552.4 723.3 544.4 724.5 549.2 725.8 546.8 727.0 547.1 728.2 554.4 729.4 542.8 730.7 539.4 731.9 539.2 733.1 543.7 734.3 542.5 735.6 546.0 736.8 548.9 738.0 552.8 739.2 547.0 740.5 547.7 741.7 540.7 742.9 547.9 744.1 551.6 745.3 551.4 746.6 536.6 747.8 548.6 749.0 550.5 750.3 547.6 751.5 535.4 752.7 540.5 754.0 545.1 755.2 543.8 756.4 536.6 757.6 535.8 758.9 545.7 760.1 532.9 761.3 546.9 762.6 539.6 763.8 541.0 765.0 532.0 766.3 535.8 767.5 542.9 768.7 532.0 769.9 546.3 771.1 532.1 772.4 532.6 773.6 539.6 774.8 542.0 776.0 543.4 777.3 537.4 778.5 538.3 779.7 538.0 780.9 536.0 782.1 531.9 783.4 543.9 784.6 539.7 785.8 538.9 787.0 534.3 788.3 538.7 789.5 537.0 790.7 536.3 791.9 542.3 793.1 529.2 794.4 537.2 795.6 530.0 796.8 533.8 798.1 542.3 799.3 529.5 800.5 534.6 801.8 531.8 803.0 539.9 804.2 529.6 805.4 527.9 806.7 537.5 807.9 532.9 809.1 533.1 810.4 540.5 811.6 530.2 812.8 533.1 814.1 536.0 815.3 537.6 816.5 533.0 817.7 541.4 818.9 543.2 820.2 534.5 821.4 543.8 822.6 530.5 823.8 544.5 825.0 536.2 826.3 539.0 827.5 536.7 828.7 535.4 830.0 532.3 831.2 537.1 832.4 546.1 833.7 545.5 834.9 538.0 836.1 537.3 837.3 536.6 838.6 534.2 839.8 547.3 841.0 544.1 842.3 541.5 843.5 538.5 844.7 535.9 846.0 548.0 847.2 545.4 848.4 536.7 849.6 546.8 850.8 536.2 852.1 545.3 853.3 537.2 854.5 540.0 855.7 544.6 856.9 544.2 858.2 547.0 859.4 537.5 860.5 548.0 861.7 547.7 862.8 540.7 864.0 542.7 865.1 535.9 866.3 538.6 867.4 532.2 868.5 538.7 869.7 538.6 870.8 543.6 872.0 541.2 873.1 539.9 874.3 533.4 875.4 533.5 876.5 532.3 877.5 534.6 878.6 526.4 879.6 536.2 880.7 525.3 881.8 528.6 882.8 530.6 883.9 527.3 884.9 535.7 886.0 528.1 887.1 534.4 888.1 533.0 889.2 524.0 890.2 527.7 891.3 531.4 892.2 522.7 893.2 524.0 894.1 520.1 895.1 522.4 896.1 519.6 897.0 521.0 898.0 524.7 899.0 525.4 899.9 518.9 900.9 518.4 901.8 520.7 902.8 514.3 903.7 509.7 904.6 519.4 905.5 508.6 906.3 516.8 907.2 506.7 908.0 516.8 908.9 504.4 909.7 512.5 910.5 513.6 911.2 501.5 912.0 511.3 912.8 499.8 913.5 496.3 914.3 505.0 915.0 503.8 915.7 498.3 916.4 492.1 917.2 497.2 917.9 495.2 918.6 494.1 919.3 494.0 920.0 488.7 921.2 492.0 922.3 501.0 923.5 501.5 924.6 494.2 925.7 493.4 926.8 499.6 927.9 503.6 929.0 502.7 930.1 494.2 931.2 500.8 932.3 500.5 933.5 505.4 934.6 504.1 935.8 500.0 937.0 502.3 938.1 493.8 939.2 501.2 940.3 492.6 941.3 496.4 942.3 499.3 942.8 491.2 943.4 492.9 943.8 490.9 944.3 498.7 944.7 498.7 945.2 498.5 945.6 503.6 946.0 496.4 946.4 503.7 946.8 505.6 947.3 505.4 947.7 511.7 948.2 515.5 948.6 508.7 949.2 507.7 949.7 510.6 950.3 515.0 950.8 518.4 951.4 512.7 951.9 522.4 952.5 514.1 953.1 523.9 953.7 523.2 954.3 524.5 954.9 529.5 955.5 523.4 956.1 525.0 956.8 529.1 957.5 532.0 958.1 523.0 958.8 531.4 959.5 527.7 960.2 535.0 960.9 539.0 961.6 534.1 962.3 534.2 963.0 536.2 964.1 530.3 965.2 540.7 966.3 540.5 967.5 539.3 968.7 537.2 969.9 536.2 971.1 539.2 972.3 545.9 973.5 540.3 974.7 547.0 975.8 535.5 976.9 539.7 978.0 543.4 979.0 542.4 980.5 537.2 981.8 540.6 983.1 549.7 984.4 538.7 985.6 540.4 986.7 540.4 987.9 543.3 988.9 549.2 990.0 549.6 991.1 541.7 992.2 554.1 993.2 546.2 994.2 547.0 995.1 556.3 996.1 551.1 997.0 547.1 998.0 551.1 998.5 551.6 998.9 551.2 999.4 555.1 999.8 561.5 1000.2 560.2 1000.7 553.9 1001.1 566.6 1001.5 557.6 1002.0 563.6 1002.4 564.5 1002.9 568.9 1003.4 565.3 1004.0 570.0 1004.6 574.9 1005.3 570.8 1006.0 566.8 1006.6 574.0 1007.2 570.0 1007.9 572.8 1008.5 576.3 1009.2 577.9 1010.0 576.2 1010.7 582.2 1011.5 578.7 1012.3 574.9 1013.1 585.4 1013.9 581.1 1014.7 588.9 1015.5 581.9 1016.3 588.2 1017.1 588.1 1017.9 582.2 1018.8 583.2 1019.6 584.9 1020.4 596.1 1021.1 585.9 1021.9 596.2 1022.8 597.9 1023.8 596.4 1024.7 598.1 1025.6 594.2 1026.6 597.1 1027.5 599.0 1028.4 600.7 1029.4 602.8 1030.3 599.8 1031.2 598.6 1032.2 600.0 1033.1 604.8 1034.1 598.5 1035.0 599.4 1035.9 603.6 1036.9 603.8 1037.8 605.6 1038.9 602.2 1039.9 606.8 1041.0 607.9 1042.1 612.8 1043.1 605.1 1044.2 609.7 1045.3 613.5 1046.3 614.2 1047.4 617.5 1048.5 617.5 1049.5 609.7 1050.6 616.8 1051.7 613.4 1052.7 612.0 1053.8 620.6 1055.0 613.4 1056.3 612.9 1057.5 614.9 1058.7 613.5 1059.9 620.8 1061.1 618.6 1062.4 622.2 1063.6 618.9 1064.8 615.0 1066.0 621.3 1067.3 614.8 1068.5 615.4 1069.7 616.4 1070.8 616.9 1072.0 621.1 1073.1 614.0 1074.2 617.2 1075.4 615.4 1076.5 610.4 1077.6 610.5 1078.8 613.3 1079.9 615.1 1081.0 614.3 1082.2 614.3 1083.3 612.1 1084.5 609.6 1085.6 612.2 1086.6 606.3 1087.6 604.6 1088.7 607.5 1089.7 603.3 1090.8 605.5 1091.9 603.9 1092.9 603.9 1094.0 605.0 1095.1 601.5 1096.1 602.1 1097.1 598.1 1098.1 602.6 1099.0 598.0 1099.9 601.9 1100.8 594.8 1101.6 595.8 1102.5 598.6 1103.3 592.0 1104.1 594.3 1104.9 594.9 1105.6 593.9 1106.2 587.7 1106.9 592.1 1107.5 590.7 1108.1 585.5 1108.7 590.6 1109.3 586.6 1109.9 585.8 1110.4 583.0 1111.0 585.5 1111.6 582.7 1112.2 585.3 1112.7 581.7 1113.2 576.7 1113.7 577.0 1114.2 580.0 1114.7 574.3 1115.1 575.8 1115.6 575.2 1116.1 571.5 1116.5 566.3 1117.0 570.1 1117.5 569.2 1117.9 567.8 1118.3 563.6 1118.7 569.5 1119.1 563.6 1119.5 560.7 1119.9 559.3 1120.3 562.0 1120.7 555.7 1121.1 554.8 1121.5 561.8 1121.9 560.6 1122.3 558.6 1122.7 558.2 1123.1 554.6 1123.5 546.6 1123.9 554.2 1124.3 553.3 1124.6 549.5 1125.0 542.1 1125.3 549.9 1125.7 548.9 1126.0 541.4 1126.4 542.5 1126.7 543.6 1127.1 539.3 1127.5 542.4 1127.8 537.6 1128.2 538.6 1128.5 535.2 1128.9 529.2 1129.2 529.1 1129.6 536.1 1129.9 531.4 1130.3 533.9 1130.7 532.1 1131.1 531.4 1131.5 527.6 1131.9 522.4 1132.2 523.4 1132.6 517.6 1133.0 520.3 1133.4 523.0 1133.8 514.2 1134.2 518.3 1134.6 519.4 1135.0 519.9 1135.4 511.0 1135.8 510.9 1136.3 507.6 1136.7 507.4 1137.2 511.6 1137.7 513.1 1138.3 503.4 1138.8 510.7 1139.4 506.5 1140.0 502.1 1140.6 507.2 1141.1 497.0 1141.7 500.2 1142.3 500.0 1142.9 502.7 1143.5 501.6 1144.0 500.5 1144.6 495.5 1145.3 497.1 1145.9 496.7 1146.6 492.6 1147.3 490.5 1147.9 487.1 1148.6 484.9 1149.3 480.7 1149.9 488.3 1150.6 481.4 1151.3 477.8 1151.9 482.8 1152.6 481.9 1153.1 482.9 1153.6 487.2 1154.0 483.1 1154.5 483.4 1155.0 482.7 1155.5 486.3 1156.0 486.1 1156.5 489.6 1156.9 494.7 1157.4 493.0 1157.9 490.2 1158.4 499.0 1158.8 499.0 1159.3 500.3 1159.7 501.3 1160.2 503.0 1160.6 503.7 1161.0 506.9 1161.4 507.1 1161.8 509.2 1162.1 504.3 1162.5 507.1 1162.9 505.8 1163.2 512.7 1163.6 513.5 1163.9 510.2 1164.3 515.0 1164.6 518.5 1164.9 519.5 1165.3 512.7 1165.6 517.4 1166.0 521.0 1166.3 519.8 1166.6 522.4 1167.0 526.2 1167.4 524.5 1167.8 520.9 1168.2 528.2 1168.5 526.7 1168.9 528.5 1169.3 527.4 1169.7 526.1 1170.0 527.4 1170.4 531.5 1170.8 530.3 1171.2 530.7 1171.6 540.1 1172.0 533.6 1172.4 536.3 1172.9 541.8 1173.3 537.0 1173.6 546.6 1174.0 540.8 1174.4 546.6 1174.7 543.9 1175.1 547.6 1175.5 548.0 1175.8 548.7 1176.2 545.6 1176.6 546.7 1177.0 551.9 1177.4 557.5 1177.8 552.6 1178.2 557.3 1178.6 557.2 1179.0 559.5 1179.4 562.3 1179.8 556.0 1180.1 562.4 1180.5 562.1 1180.9 562.9 1181.3 562.4 1181.6 563.7 1182.0 564.1 1182.3 565.1 1182.6 574.1 1183.0 575.4 1183.3 572.5 1183.6 576.2 1184.0 571.9 1184.3 572.2 1184.6 573.5 1185.0 579.5 1185.3 584.6 1185.6 581.6 1186.0 579.7 1186.3 583.5 1186.6 582.3 1187.0 582.6 1187.3 587.2 1187.6 587.8 1188.0 587.5 1188.3 588.3 1188.6 589.2 1189.0 593.9 1189.3 598.2 1190.0 595.0 1190.7 601.4 1191.5 594.5 1192.2 600.8 1192.9 597.2 1193.6 601.4 1194.3 603.1 1195.0 605.3 1195.8 607.7 1196.5 602.8 1197.2 601.0 1198.4 604.5 1199.5 605.5 1200.7 601.4 1201.9 605.5 1203.0 605.9 1204.1 597.4 1205.2 603.1 1205.7 605.7 1206.2 599.1 1206.6 604.7 1207.1 604.3 1207.5 602.1 1207.9 611.4 1208.3 609.3 1208.7 608.5 1209.1 612.7 1209.6 614.7 1210.0 616.5 1210.5 617.2 1211.0 617.9 1211.6 614.1 1212.1 617.6 1212.7 620.4 1213.2 617.1 1213.8 626.3 1214.3 622.3 1214.9 621.3 1215.5 621.8 1216.1 627.7 1216.8 628.1 1217.4 627.3 1218.1 628.9 1218.8 628.4 1219.6 629.8 1220.4 632.7 1221.2 631.8 1222.1 636.7 1223.1 634.9 1224.2 636.5 1225.3 637.9 1226.4 641.2 1227.5 639.7 1228.7 639.1 1229.9 638.3 1231.1 636.8 1232.3 638.6 1233.5 642.1 1234.7 641.1 1235.9 639.5 1237.0 637.1 1238.2 637.4 1239.5 642.4 1240.7 644.6 1241.9 642.7 1243.1 637.8 1244.4 641.0 1245.6 642.2 1246.8 638.8 1248.1 642.5 1249.3 640.9 1250.5 639.0 1251.8 637.9 1253.0 644.1 1254.2 642.9 1255.5 639.5 1256.7 639.4 1257.9 645.3 1259.2 644.7 1260.4 642.3 1261.6 647.3 1262.8 643.0 1264.1 641.0 1265.3 647.6 1266.5 644.1 1267.8 645.9 1269.0 645.1 1270.2 642.1 1271.5 641.7 1272.7 644.6 1274.0 649.0 1275.2 642.3 1276.5 649.0 1277.7 645.8 1279.0 641.8 1280.2 645.9 1281.4 646.7 1282.6 642.4 1283.8 641.2 1285.0 646.0 1286.3 641.8 1287.6 646.4 1288.8 641.3 1290.0 644.7 1291.2 642.8 1292.4 641.5 1293.6 644.6 1294.9 645.9 1296.2 643.8 1297.5 642.0 1299.0 646.1 1300.1 641.7 1301.2 647.1 1302.3 647.0 1303.5 649.3 1304.6 648.2 1305.9 646.6 1307.1 646.4 1308.3 645.7 1309.6 641.9 1310.8 649.4 1312.1 647.2 1313.4 644.8 1314.6 642.2 1315.9 649.3 1317.1 647.1 1318.3 642.0 1319.6 647.4 1320.9 649.2 1322.1 645.4 1323.4 646.7 1324.7 644.3 1326.0 643.7 1327.2 648.7 1328.5 649.3 1329.8 645.8 1331.0 645.1 1332.3 647.6 1333.6 644.2 1334.9 647.0 1336.1 647.0 1337.4 641.2 1338.5 640.7 1339.6 643.1 1340.6 645.1 1341.8 642.8 1342.9 644.9 1344.0 636.8 1345.1 641.2 1346.2 637.1 1347.3 638.4 1348.4 638.2 1349.5 633.7 1350.5 635.1 1351.6 631.7 1352.6 635.3 1353.6 631.5 1354.6 632.1 1355.6 633.8 1356.5 631.1 1357.8 636.3 1359.1 631.4 1360.2 636.2 1361.4 635.2 1362.4 632.1 1363.5 635.3 1364.5 634.4 1365.6 636.6 1366.6 637.6 1367.7 642.7 1368.8 638.1 1370.0 643.1 1371.0 640.5 1372.0 635.2 1373.1 634.6 1374.1 639.7 1375.1 633.2 1376.2 638.2 1377.2 638.3 1378.3 635.6 1379.4 633.1 1380.5 632.3 1381.7 633.2 1382.8 631.1 1384.0 630.2 1385.2 630.6 1386.2 635.2 1387.2 630.3 1388.2 633.6 1389.2 629.7 1390.2 631.6 1391.3 630.6 1392.3 634.5 1393.4 637.9 1394.5 637.6 1395.6 636.1 1396.7 640.0 1397.9 638.0 1399.1 640.8 1400.3 641.2 1401.6 642.5 1402.9 637.7 1404.3 638.0 1405.3 644.1 1406.4 641.7 1407.5 645.9 1408.6 641.6 1409.7 640.7 1410.9 646.1 1412.0 644.0 1413.2 646.1 1414.4 643.8 1415.6 641.7 1416.8 644.4 1418.1 639.9 1419.3 640.8 1420.6 640.4 1421.9 641.3 1423.2 644.0 1424.6 640.3 1425.9 642.4 1427.3 639.9 1428.7 643.7 1430.1 637.3 1431.6 640.3 1433.0 641.2 1434.1 637.5 1435.1 643.3 1436.2 640.9 1437.3 643.8 1438.5 642.8 1439.6 641.7 1440.7 639.3 1441.9 636.4 1443.1 638.7 1444.3 637.8 1445.5 639.7 1446.7 637.4 1447.9 642.3 1449.1 634.7 1450.3 641.5 1451.6 636.6 1452.8 637.0 1454.0 640.1 1455.3 637.3 1456.5 633.6 1457.8 638.0 1459.0 636.0 1460.3 632.6 1461.5 636.6 1462.7 632.8 1464.0 633.5 1465.2 636.7 1466.5 635.9 1467.7 634.0 1468.9 638.2 1470.1 635.5 1471.3 632.3 1472.5 634.4 1473.6 633.1 1474.8 629.5 1475.9 629.2 1477.1 628.9 1478.3 635.9 1479.4 631.4 1480.6 630.8 1481.7 629.6 1482.9 633.7 1484.0 630.6 1485.2 633.9 1486.4 632.1 1487.5 633.1 1488.7 628.8 1489.8 629.8 1491.0 627.2 1492.1 627.6 1493.3 624.0 1494.4 625.7 1495.6 624.3 1496.8 624.8 1497.9 629.8 1499.1 626.8 1500.2 629.1 1501.4 627.8 1502.5 627.7 1503.7 627.6 1504.9 622.8 1506.0 626.5 1507.2 623.1 1508.3 622.2 1509.5 626.9 1510.7 626.9 1511.9 620.3 1513.1 626.5 1514.3 625.0 1515.5 620.1 1516.8 623.1 1518.0 623.2 1519.2 623.0 1520.4 620.8 1521.7 618.1 1522.9 621.6 1524.1 623.8 1525.3 623.5 1526.6 623.0 1527.8 624.1 1529.0 618.1 1530.2 620.7 1531.4 621.6 1532.7 623.4 1533.9 620.9 1535.1 621.8 1536.3 620.6 1537.4 623.8 1538.6 616.4 1539.8 619.9 1541.0 623.5 1542.1 620.5 1543.3 616.1 1544.4 620.0 1545.6 615.9 1546.7 617.5 1547.8 619.9 1549.1 622.8 1550.4 620.3 1551.7 620.8 1553.0 621.6 1554.3 619.2 1555.6 616.1 1556.8 618.0 1558.1 619.1 1559.3 617.2 1560.6 616.0 1561.8 616.7 1563.1 613.9 1564.3 614.5 1565.5 617.0 1566.7 616.1 1567.9 617.1 1569.1 620.6 1570.2 617.7 1571.4 616.7 1572.6 613.4 1573.7 613.7 1574.8 617.7 1575.9 614.2 1577.1 617.8 1578.1 613.7 1579.2 617.1 1580.3 616.6 1581.7 619.7 1583.0 616.1 1584.4 616.4 1585.7 618.4 1587.1 618.2 1588.4 622.0 1589.7 618.1 1591.0 617.8 1592.3 618.8 1593.6 621.5 1594.8 621.3 1596.0 623.0 1597.2 617.9 1598.3 625.6 1599.5 626.0 1600.5 622.7 1601.5 619.8 1602.5 623.8 1603.5 624.8 1604.4 620.3 1605.2 624.0 1607.3 620.6 1608.8 625.3 1610.0 627.3 1610.9 626.1 1611.9 619.0 1613.0 625.5 1614.4 623.8 1615.4 620.0 1616.6 622.0 1617.7 623.8 1619.0 618.9 1620.3 619.4 1621.6 617.5 1622.8 621.8 1624.1 614.5 1625.4 621.1 1626.6 614.2 1627.7 618.8 1628.8 611.9 1629.7 612.2 1630.6 612.3 1631.4 615.4 1632.2 608.6 1633.0 612.9 1633.8 608.5 1634.5 612.7 1635.2 607.3 1636.0 608.5 1636.7 605.5 1637.4 608.5 1638.1 602.8 1638.8 602.5 1639.4 605.2 1640.0 600.9 1640.5 601.5 1641.1 596.6 1641.7 598.1 1642.2 593.0 1642.8 595.7 1643.3 592.6 1643.9 589.7 1644.4 588.6 1644.9 594.1 1645.5 591.0 1646.0 585.2 1646.5 591.2 1647.0 584.5 1647.5 584.3 1648.0 584.9 1648.4 580.0 1648.9 578.5 1649.3 578.9 1649.8 583.0 1650.2 581.3 1650.6 574.0 1651.1 579.7 1651.5 575.3 1651.9 575.5 1652.3 573.1 1652.7 572.9 1653.1 567.9 1653.5 566.9 1653.9 566.3 1654.3 566.1 1654.7 567.6 1655.1 561.4 1655.4 567.2 1655.7 560.8 1656.1 559.8 1656.4 562.2 1656.7 560.3 1657.0 557.0 1657.3 553.9 1657.6 552.9 1657.9 550.9 1658.2 556.4 1658.5 555.1 1658.9 554.5 1659.2 551.1 1659.5 549.5 1659.8 549.5 1660.1 548.8 1660.4 544.3 1660.7 544.8 1661.0 546.3 1661.3 538.0 1661.6 536.8 1661.9 536.6 1662.2 540.1 1662.5 540.1 1662.8 534.7 1663.1 536.3 1663.4 533.1 1663.8 532.9 1664.1 529.4 1664.4 529.6 1664.7 528.5 1665.0 530.4 1665.3 529.7 1665.6 521.4 1665.9 525.3 1666.2 522.7 1666.5 524.1 1666.9 523.1 1667.2 521.1 1667.6 519.9 1667.9 513.9 1668.3 511.7 1668.6 517.6 1668.9 516.1 1669.3 509.0 1669.6 513.9 1670.0 511.0 1670.3 504.4 1670.6 509.2 1671.0 502.8 1671.3 507.5 1671.7 501.2 1672.0 499.9 1672.3 497.1 1672.7 498.9 1673.0 501.0 1673.3 495.2 1673.6 492.2 1673.9 498.1 1674.2 496.8 1674.6 493.9 1674.9 489.3 1675.2 486.3 1675.5 484.8 1675.9 488.7 1676.2 489.6 1676.6 482.0 1676.9 483.8 1677.3 482.0 1677.7 481.0 1678.2 481.7 1678.8 482.4 1679.4 475.5 1680.0 478.1 1680.6 477.2 1681.2 472.0 1681.8 470.9 1682.5 466.6 1683.1 472.0 1683.7 466.7 1684.4 465.7 1685.0 467.3 1685.6 464.7 1686.1 464.4 1686.7 466.9 1687.2 471.9 1687.7 468.7 1688.3 471.7 1688.8 468.0 1689.3 469.3 1689.9 477.8 1690.4 474.6 1690.9 473.6 1691.4 478.3 1692.0 481.7 1692.5 477.9 1693.0 480.3 1693.5 484.6 1694.0 482.5 1694.5 488.3 1695.0 489.8 1695.5 489.5 1696.0 488.2 1696.5 490.3 1697.0 489.8 1697.5 492.2 1698.0 494.5 1698.4 493.9 1698.9 498.5 1699.4 500.5 1699.8 496.6 1700.3 500.2 1700.7 502.6 1701.1 503.3 1701.5 501.9 1701.9 502.4 1702.3 507.5 1702.6 507.6 1703.0 508.4 1703.3 505.9 1703.7 511.0 1704.0 512.6 1704.4 511.1 1704.7 514.5 1705.1 517.5 1705.4 511.7 1705.8 518.1 1706.1 514.5 1706.5 515.5 1706.8 519.5 1707.1 522.7 1707.4 522.6 1707.7 520.4 1708.0 521.3 1708.3 524.5 1708.6 527.3 1708.9 526.2 1709.2 526.2 1709.5 534.5 1709.8 530.0 1710.1 533.1 1710.4 533.3 1710.7 534.4 1711.0 537.4 1711.3 537.7 1711.6 541.5 1711.9 537.8 1712.2 538.7 1712.5 546.9 1712.8 544.4 1713.1 547.9 1713.4 550.2 1713.7 549.7 1714.0 549.5 1714.3 547.0 1714.6 548.2 1714.9 555.6 1715.3 555.9 1715.6 556.8 1715.9 552.9 1716.2 554.1 1716.5 555.9 1716.8 556.7 1717.1 561.5 1717.4 559.4 1717.7 566.9 1718.0 562.8 1718.3 564.2 1718.7 569.4 1719.0 569.2 1719.3 567.0 1719.6 573.0 1719.9 575.5 1720.2 569.8 1720.5 573.7 1720.8 572.6 1721.1 573.3 1721.5 579.7 1721.8 581.1 1722.2 583.1 1722.5 582.8 1722.9 579.3 1723.3 584.0 1723.7 583.5 1724.1 583.2 1724.5 584.6 1724.9 590.9 1725.4 589.1 1725.8 594.6 1726.3 593.6 1726.7 589.9 1727.2 597.1 1727.7 599.2 1728.2 597.0 1728.7 594.8 1729.2 602.8 1729.7 596.9 1730.2 601.4 1730.8 599.2 1731.3 600.5 1731.8 601.5 1732.4 609.2 1732.9 610.5 1733.5 607.3 1734.1 606.0 1734.6 610.4 1735.2 612.8 1735.8 609.3 1736.4 610.8 1737.0 614.8 1737.7 618.1 1738.3 617.5 1738.9 619.6 1739.5 616.0 1740.2 617.0 1740.8 622.4 1741.4 620.0 1742.1 623.2 1742.7 623.5 1743.3 626.7 1743.9 624.2 1744.7 631.0 1745.5 628.7 1746.3 631.1 1747.1 632.4 1747.9 634.5 1748.7 633.8 1749.5 630.1 1750.3 632.7 1751.1 638.9 1751.9 637.5 1752.7 638.5 1753.6 639.1 1754.5 636.8 1755.4 637.4 1756.5 638.3 1757.6 644.0 1758.9 642.6 1760.1 645.8 1761.5 644.4 1762.8 647.2 1764.1 645.5 1765.3 641.6 1766.5 648.9 1767.6 646.8 1768.5 649.6 1769.3 647.3 1770.0 646.1" fill="none" stroke="#f24141" stroke-width="11" stroke-linejoin="round" stroke-linecap="butt"/>
<path d="M233.0 619.6L233.5 607.9 234.1 607.8 234.9 611.3 235.7 615.5 236.6 609.3 237.5 621.1 238.5 625.7 239.5 635.7 240.6 636.6 241.7 625.2 242.8 634.7 243.9 625.4 244.9 631.8 246.0 628.7 247.0 624.7 248.0 631.0 249.0 619.4 250.1 635.7 251.1 629.7 252.2 623.1 253.3 630.3 254.4 639.2 255.5 628.7 256.6 639.7 257.7 641.2 258.8 648.1 259.9 627.6 260.9 637.0 262.0 643.2 263.1 650.6 264.1 642.2 265.2 647.2 266.2 629.8 267.3 636.6 268.3 653.5 269.4 640.4 270.4 654.7 271.5 637.8 272.5 642.4 273.6 634.4 274.6 651.7 275.7 649.1 276.7 658.5 277.8 649.6 278.8 646.7 279.8 638.7 280.8 649.6 281.8 659.3 282.8 658.2 283.8 663.2 284.8 660.9 285.8 653.9 286.8 660.2 287.8 657.3 288.8 645.8 289.8 668.1 290.8 661.2 291.8 649.9 292.8 662.7 293.8 662.5 294.9 669.2 296.1 672.1 297.2 651.6 298.4 667.4 299.5 673.9 300.6 656.1 301.8 654.0 302.9 667.4 304.0 668.4 305.2 669.0 306.3 657.4 307.4 663.3 308.6 669.2 309.7 674.2 310.8 679.0 312.0 671.5 313.1 664.5 314.2 659.5 315.4 679.1 316.5 669.6 317.6 670.2 318.8 663.4 319.9 677.9 321.0 661.9 322.2 673.5 323.3 674.0 324.5 675.8 325.6 684.0 326.8 673.3 328.1 675.3 329.3 681.8 330.5 665.0 331.8 673.3 333.0 676.6 334.2 684.1 335.4 670.3 336.7 683.6 337.9 680.6 339.1 667.7 340.4 668.0 341.6 668.4 342.8 680.0 344.1 680.8 345.3 685.3 346.5 686.4 347.7 675.7 348.9 688.9 350.2 687.2 351.4 684.8 352.6 685.1 353.8 671.6 355.0 684.8 356.3 674.0 357.5 673.0 358.7 680.0 360.0 684.2 361.2 682.9 362.4 681.0 363.7 676.0 364.9 685.6 366.1 678.6 367.3 674.8 368.6 685.7 369.8 695.1 371.0 682.4 372.3 677.7 373.5 696.2 374.6 696.6 375.8 685.0 376.9 686.1 378.0 689.9 379.2 698.6 380.3 690.4 381.4 697.6 382.6 693.9 383.7 681.3 384.9 683.0 386.0 682.6 387.1 696.0 388.3 693.9 389.4 703.3 390.5 692.0 391.7 696.9 392.8 695.5 394.0 696.5 395.1 705.5 396.3 698.5 397.4 706.3 398.5 706.7 399.7 692.9 400.8 703.1 402.0 695.3 403.1 699.4 404.3 700.1 405.4 699.4 406.6 695.9 407.9 709.3 409.1 698.0 410.3 705.5 411.5 709.9 412.7 705.3 414.0 708.5 415.2 710.4 416.4 709.3 417.6 710.7 418.9 691.9 420.1 710.9 421.3 701.8 422.5 692.3 423.7 697.0 425.0 692.5 426.2 701.7 427.4 692.6 428.6 694.4 429.9 704.2 431.1 703.2 432.3 696.1 433.5 700.3 434.7 701.4 436.0 702.8 437.2 702.3 438.4 700.9 439.7 709.2 440.9 693.7 442.1 699.6 443.4 704.4 444.6 700.7 445.8 699.9 447.0 701.0 448.3 706.0 449.5 713.8 450.7 703.7 452.0 703.4 453.2 708.2 454.4 704.1 455.7 697.0 456.9 708.3 458.1 703.9 459.3 702.8 460.5 711.7 461.8 707.8 463.0 703.7 464.2 699.0 465.4 699.4 466.7 708.9 467.9 708.3 469.1 712.7 470.2 711.7 471.4 707.1 472.5 702.2 473.6 703.9 474.8 711.3 475.9 704.8 477.0 719.0 478.2 705.4 479.3 706.0 480.4 714.1 481.6 707.2 482.7 725.4 483.9 710.1 485.0 717.1 486.2 716.2 487.5 712.4 488.7 709.7 489.9 709.9 491.1 724.9 492.4 726.1 493.6 727.9 494.8 710.5 496.1 723.4 497.3 719.6 498.5 725.8 499.8 716.7 501.0 725.7 502.1 727.3 503.1 725.8 504.2 730.8 505.2 721.5 506.2 731.9 507.3 719.1 508.3 733.2 509.3 716.6 510.4 726.0 511.4 721.1 512.5 727.2 513.6 734.9 514.7 733.3 515.8 729.6 517.0 738.0 518.1 721.5 519.3 724.9 520.4 739.4 521.6 733.6 522.8 723.3 524.0 734.5 525.3 724.6 526.5 741.5 527.7 741.2 529.0 730.1 530.2 742.7 531.4 728.9 532.6 741.1 533.8 739.1 534.9 734.7 536.0 727.4 537.3 734.2 538.6 727.9 539.9 732.8 541.1 728.3 542.3 745.0 543.5 730.5 544.7 728.7 545.9 741.2 547.1 739.8 548.3 734.1 549.5 746.1 550.7 743.1 551.9 738.6 553.0 734.2 554.2 730.5 555.3 742.4 556.4 746.0 557.6 736.1 558.7 732.1 559.8 740.6 561.0 733.0 562.1 741.8 563.2 747.4 564.4 751.0 565.5 744.8 566.7 744.8 567.8 748.8 569.0 752.5 570.3 742.4 571.5 736.7 572.7 740.0 574.0 737.3 575.2 740.0 576.4 745.5 577.6 748.8 578.9 747.9 580.1 747.6 581.3 745.0 582.6 750.4 583.8 753.7 585.0 753.0 586.3 756.4 587.5 746.3 588.7 746.7 589.9 756.7 591.1 749.9 592.4 751.3 593.6 746.4 594.8 755.1 596.0 746.0 597.3 742.0 598.5 748.2 599.7 745.6 600.9 753.8 602.1 745.7 603.4 748.7 604.6 746.1 605.8 749.4 607.0 742.7 608.3 753.7 609.5 738.0 610.7 743.3 611.9 741.0 613.1 749.7 614.4 745.6 615.6 748.6 616.7 743.4 617.9 741.1 619.0 738.8 620.2 744.2 621.3 743.3 622.5 749.1 623.6 750.1 624.7 754.6 625.9 748.1 627.0 744.4 628.2 742.8 629.3 750.6 630.5 752.9 631.6 759.0 632.8 752.4 634.1 759.6 635.3 759.9 636.5 745.3 637.7 760.1 638.9 759.9 640.2 760.8 641.4 752.9 642.6 759.4 643.8 750.3 645.0 753.2 646.3 754.0 647.5 762.1 648.7 753.0 650.0 760.8 651.2 755.3 652.4 750.6 653.7 757.0 654.9 760.0 656.1 751.5 657.3 760.4 658.6 752.0 659.8 751.2 661.0 758.4 662.3 755.7 663.5 751.0 664.7 749.4 666.0 757.6 667.2 759.1 668.4 754.6 669.6 758.7 670.8 749.6 672.1 760.0 673.3 760.1 674.5 759.2 675.7 753.5 676.9 757.8 678.2 758.1 679.4 764.1 680.6 759.1 681.9 758.9 683.1 752.8 684.3 762.8 685.6 764.8 686.8 754.3 688.0 761.5 689.2 759.4 690.5 757.2 691.7 749.6 692.9 765.3 694.2 749.5 695.4 759.2 696.6 754.8 697.9 764.3 699.1 754.3 700.3 757.0 701.5 760.5 702.7 759.3 704.0 753.0 705.2 760.3 706.4 758.3 707.6 761.8 708.9 752.2 710.1 754.9 711.3 752.6 712.5 749.5 713.7 756.1 715.0 756.8 716.2 761.8 717.4 751.7 718.6 755.9 719.9 760.3 721.1 752.2 722.3 753.1 723.5 753.3 724.7 747.9 726.0 745.8 727.2 758.6 728.4 752.6 729.7 750.8 730.9 743.4 732.1 751.6 733.4 757.9 734.6 743.4 735.8 744.8 737.0 756.9 738.3 757.7 739.5 757.5 740.7 746.2 742.0 753.1 743.2 744.7 744.4 752.4 745.7 746.8 746.9 750.1 748.1 756.5 749.3 750.8 750.5 747.1 751.8 748.8 753.0 750.0 754.2 745.2 755.4 749.4 756.7 751.7 757.9 755.6 759.1 740.2 760.3 740.4 761.5 739.9 762.8 752.5 764.0 754.6 765.2 747.9 766.4 747.3 767.7 753.2 768.9 738.5 770.1 744.8 771.3 738.1 772.5 746.5 773.8 742.4 775.0 742.5 776.2 747.5 777.4 741.9 778.6 752.2 779.8 745.7 781.0 748.1 782.2 753.6 783.4 743.5 784.6 752.0 785.9 741.6 787.1 754.2 788.4 752.6 789.7 747.8 791.0 752.9 792.2 754.5 793.4 754.5 794.7 746.9 795.9 746.5 797.2 753.3 798.5 739.1 799.8 742.9 801.2 749.2 802.5 749.6 803.8 753.6 805.1 753.5 806.3 747.8 807.6 748.5 808.8 738.4 810.0 744.7 811.3 747.4 812.6 744.6 813.9 746.3 815.1 749.7 816.4 740.7 817.6 743.1 818.8 739.2 820.0 753.4 821.2 740.7 822.4 739.7 823.6 751.7 824.8 746.1 826.0 753.0 827.2 745.4 828.5 754.9 829.7 751.9 830.9 748.7 832.1 748.7 833.3 746.9 834.6 752.9 835.8 755.6 837.0 745.9 838.2 742.1 839.5 751.8 840.7 754.4 841.9 741.0 843.1 744.1 844.3 742.1 845.6 750.7 846.8 750.1 848.0 742.6 849.2 740.0 850.5 749.9 851.7 738.5 852.9 748.9 854.1 744.1 855.3 751.8 856.6 750.0 857.8 740.9 859.0 742.5 860.3 742.5 861.5 740.0 862.7 744.7 864.0 749.7 865.2 737.3 866.4 743.3 867.6 751.8 868.9 748.9 870.1 740.2 871.3 740.1 872.6 739.7 873.8 737.1 874.9 750.3 875.9 743.8 877.0 739.1 878.0 735.4 879.1 739.7 880.2 738.4 881.2 747.6 882.3 737.4 883.3 739.9 884.4 744.5 885.5 741.6 886.5 736.2 887.6 729.6 888.6 742.9 889.7 738.7 890.8 732.4 892.0 733.7 893.1 728.4 894.2 728.1 895.4 725.4 896.5 734.5 897.6 734.0 898.8 731.5 899.9 734.3 901.0 732.4 902.2 729.7 903.3 723.9 904.5 731.5 905.6 734.4 906.8 731.1 908.1 734.2 909.3 724.7 910.5 721.7 911.8 733.6 913.0 723.6 914.2 728.0 915.4 725.6 916.7 726.9 917.9 725.5 919.1 724.3 920.4 720.7 921.6 734.8 922.5 729.5 923.5 722.2 924.4 724.8 925.3 724.4 926.3 727.2 927.2 725.2 928.1 735.8 929.1 740.4 930.0 733.3 931.0 739.4 931.9 739.6 932.8 730.8 933.8 744.7 934.7 732.6 935.6 737.1 936.6 739.1 937.5 748.4 938.4 743.2 939.4 742.7 940.3 740.0 941.3 745.5 942.2 746.1 943.1 750.5 944.1 754.1 945.0 752.1 946.0 749.2 946.9 749.1 947.9 757.2 948.8 752.4 949.7 752.0 950.7 759.3 951.6 760.0 952.6 757.0 953.5 754.0 954.6 752.0 955.8 761.4 957.0 754.2 958.2 762.0 959.4 753.6 960.6 758.6 961.8 760.6 962.9 759.7 964.1 760.6 965.2 761.7 966.3 754.4 967.4 754.7 968.4 759.9 969.4 767.4 970.8 760.5 972.2 756.5 973.4 757.7 974.6 761.0 975.8 766.6 976.9 757.6 978.1 763.3 979.3 761.5 980.6 759.1 981.6 756.6 982.6 761.0 983.7 758.7 984.7 765.6 985.8 757.2 986.9 769.9 987.9 768.8 989.0 768.7 990.1 773.1 991.2 770.7 992.2 762.3 993.3 770.0 994.0 772.7 994.8 767.9 995.6 766.6 996.3 775.3 997.1 776.7 997.8 773.1 998.6 775.0 999.4 774.8 1000.1 775.5 1000.9 779.1 1001.6 785.7 1002.4 775.3 1003.1 780.9 1003.8 789.8 1004.6 786.1 1005.3 786.3 1006.0 790.4 1006.8 782.6 1007.6 782.6 1008.4 783.2 1009.2 784.2 1009.9 792.4 1010.7 796.2 1011.4 791.0 1012.1 790.6 1012.9 796.7 1013.7 798.5 1014.5 797.7 1015.4 791.3 1016.3 795.7 1017.2 793.2 1018.0 801.1 1018.9 796.8 1019.7 798.5 1020.6 808.3 1021.6 809.1 1022.5 806.2 1023.5 806.1 1024.4 806.5 1025.4 803.8 1026.4 807.1 1027.4 814.0 1028.4 804.9 1029.3 806.7 1030.3 811.2 1031.3 815.2 1032.3 815.7 1033.2 808.4 1034.2 812.9 1035.2 813.1 1036.2 809.5 1037.2 816.1 1038.2 814.4 1039.2 821.4 1040.2 820.0 1041.2 815.4 1042.1 819.8 1043.1 818.6 1044.1 818.1 1045.1 819.3 1046.1 826.6 1047.1 820.8 1048.1 817.6 1049.1 820.2 1050.3 827.4 1051.5 829.9 1052.8 820.5 1054.0 823.8 1055.2 824.3 1056.4 820.6 1057.7 827.8 1058.9 826.1 1060.1 827.6 1061.3 831.7 1062.5 825.3 1063.8 829.5 1065.0 829.4 1066.1 823.1 1067.2 822.8 1068.3 830.0 1069.4 827.0 1070.6 824.0 1071.7 818.2 1072.9 825.4 1074.0 823.1 1075.1 825.4 1076.2 824.6 1077.2 821.8 1078.2 818.9 1079.2 817.3 1080.1 814.2 1081.0 817.1 1082.5 816.1 1083.8 817.0 1085.0 818.2 1086.1 814.7 1087.2 810.8 1088.1 815.6 1089.1 816.9 1090.0 807.7 1090.8 811.8 1091.5 811.4 1092.2 810.3 1092.8 809.1 1093.4 805.6 1094.0 804.5 1094.6 808.9 1095.2 807.8 1095.8 796.6 1096.5 795.5 1097.3 801.4 1098.0 796.0 1098.7 795.6 1099.5 791.6 1100.2 797.1 1101.0 794.4 1101.7 791.4 1102.3 796.0 1103.0 796.4 1103.6 795.2 1104.3 793.6 1104.9 786.2 1105.6 789.2 1106.2 785.2 1106.9 788.7 1107.5 785.3 1108.1 781.8 1108.7 783.1 1109.3 777.0 1109.9 781.9 1110.5 782.8 1111.0 775.3 1111.6 777.8 1112.2 769.6 1112.8 777.2 1113.4 775.9 1114.0 767.3 1114.7 775.1 1115.3 769.4 1116.0 762.7 1116.6 761.6 1117.3 768.8 1117.9 763.2 1118.6 767.4 1119.2 757.0 1119.9 760.4 1120.6 763.5 1121.4 756.0 1122.1 760.2 1122.8 755.1 1123.5 756.7 1124.3 755.5 1125.0 758.0 1125.6 747.2 1126.2 753.9 1126.7 754.7 1127.3 744.2 1127.9 747.7 1128.4 751.1 1129.0 749.1 1129.7 739.0 1130.3 742.0 1131.0 737.1 1131.9 742.1 1132.8 737.3 1133.8 737.1 1134.8 735.3 1135.8 738.9 1136.9 735.2 1137.9 732.6 1139.0 734.1 1139.7 735.7 1140.5 729.9 1141.3 736.2 1142.1 726.0 1142.9 731.2 1143.8 726.9 1144.6 732.1 1145.4 723.7 1146.2 722.7 1147.0 719.6 1147.7 728.7 1148.4 725.8 1149.4 719.4 1150.3 722.6 1151.2 721.0 1152.0 730.3 1152.9 728.2 1153.7 723.0 1154.6 729.8 1155.5 733.4 1156.4 730.8 1157.3 733.4 1158.2 732.0 1159.2 734.1 1160.1 734.9 1161.0 732.4 1161.9 737.3 1162.8 737.6 1163.6 737.9 1164.3 736.4 1164.9 736.2 1165.6 741.9 1166.2 745.0 1166.8 738.3 1167.3 742.2 1167.9 750.0 1168.4 749.8 1169.0 745.1 1169.5 753.7 1169.9 746.4 1170.3 748.2 1170.7 757.0 1171.0 751.9 1171.4 753.9 1171.8 751.2 1172.1 753.5 1172.5 754.1 1172.8 759.1 1173.1 756.1 1173.5 765.9 1173.8 761.9 1174.2 762.1 1174.6 763.2 1175.0 769.5 1175.5 772.7 1175.9 767.7 1176.3 775.1 1176.7 776.2 1177.1 777.4 1177.5 774.9 1178.0 770.2 1178.4 778.5 1178.8 775.6 1179.3 779.0 1179.7 774.7 1180.2 779.5 1180.6 782.4 1181.1 779.3 1181.5 784.8 1182.0 789.5 1182.5 786.8 1183.0 784.6 1183.5 792.9 1183.9 784.7 1184.4 787.1 1184.9 793.0 1185.4 790.4 1185.9 789.1 1186.4 795.8 1186.9 799.0 1187.4 794.2 1187.9 802.9 1188.4 801.2 1188.9 804.8 1189.4 797.1 1189.9 802.8 1190.3 808.6 1190.7 809.7 1191.1 810.8 1191.5 807.3 1191.9 809.1 1192.4 807.3 1192.8 814.6 1193.3 809.4 1193.9 813.6 1194.5 809.8 1195.2 811.1 1195.7 821.3 1196.3 817.9 1196.9 819.5 1197.5 815.2 1198.2 820.8 1198.9 826.6 1199.6 818.6 1200.3 819.8 1201.0 824.9 1201.8 824.7 1202.5 827.0 1203.3 824.4 1204.0 825.4 1204.8 826.6 1205.5 834.2 1206.2 832.7 1206.9 836.7 1207.8 831.1 1208.7 838.1 1209.6 835.4 1210.5 838.3 1211.4 842.2 1212.3 840.0 1213.2 839.5 1214.1 837.0 1215.0 842.5 1215.9 845.8 1216.8 841.5 1217.7 844.2 1218.6 840.5 1219.8 841.2 1220.9 847.7 1222.1 851.2 1223.3 846.0 1224.4 843.0 1225.6 846.4 1226.8 843.6 1228.0 847.3 1229.1 853.0 1230.3 850.0 1231.4 848.9 1232.5 853.5 1233.6 849.1 1234.7 852.1 1235.8 852.1 1236.9 853.5 1238.1 848.1 1239.3 855.3 1240.6 856.3 1242.0 849.4 1243.1 849.6 1244.2 851.1 1245.4 858.7 1246.6 854.6 1247.8 857.0 1249.1 856.8 1250.4 858.1 1251.7 853.1 1253.0 853.4 1254.3 856.8 1255.6 857.7 1256.9 857.7 1258.2 857.0 1259.5 854.4 1260.7 859.9 1261.9 857.8 1263.1 859.9 1264.3 852.1 1265.5 859.9 1266.7 852.3 1267.9 857.4 1269.1 854.5 1270.3 857.2 1271.6 855.3 1272.9 855.9 1274.2 857.7 1275.6 858.3 1277.0 854.5 1278.1 853.0 1279.2 854.7 1280.3 859.2 1281.5 854.6 1282.6 858.9 1283.8 856.3 1285.0 854.4 1286.2 861.6 1287.4 862.0 1288.7 857.4 1289.9 857.7 1291.2 861.1 1292.5 853.7 1293.8 855.1 1295.1 861.9 1296.4 861.2 1297.7 856.6 1299.1 855.7 1300.4 859.6 1301.5 854.2 1302.6 856.9 1303.7 857.9 1304.9 854.4 1306.0 860.9 1307.1 861.6 1308.2 862.7 1309.4 854.9 1310.5 855.0 1311.7 856.6 1312.8 855.2 1314.0 863.9 1315.2 856.4 1316.4 858.8 1317.7 860.7 1318.9 861.6 1320.2 864.4 1321.5 856.5 1322.8 863.3 1324.1 860.8 1325.5 856.4 1326.9 860.9 1328.3 856.1 1329.4 864.7 1330.5 857.9 1331.6 863.8 1332.7 864.7 1333.9 858.2 1335.0 857.2 1336.2 860.7 1337.4 856.6 1338.6 863.2 1339.9 860.7 1341.1 857.4 1342.3 857.7 1343.6 862.4 1344.8 855.6 1346.1 864.1 1347.4 857.0 1348.7 859.0 1349.9 856.4 1351.2 863.8 1352.5 862.2 1353.8 863.6 1355.1 861.5 1356.4 859.5 1357.7 863.4 1358.9 861.3 1360.2 860.4 1361.5 860.8 1362.8 861.3 1364.0 859.6 1365.3 858.0 1366.5 854.2 1367.7 862.7 1368.9 854.0 1370.1 854.0 1371.3 855.7 1372.5 862.4 1373.7 862.2 1374.9 855.9 1376.1 858.8 1377.3 857.7 1378.5 853.4 1379.7 856.4 1380.9 858.5 1382.1 861.4 1383.3 853.2 1384.5 852.9 1385.6 852.8 1386.8 858.1 1388.0 857.2 1389.2 857.3 1390.4 857.2 1391.6 855.4 1392.8 852.2 1394.0 858.0 1395.2 857.7 1396.4 858.2 1397.6 860.4 1398.8 851.8 1400.0 851.7 1401.2 851.6 1402.4 860.1 1403.6 852.6 1404.8 857.0 1406.0 855.5 1407.3 857.9 1408.5 859.6 1409.7 853.5 1411.0 854.6 1412.2 853.1 1413.4 855.9 1414.7 856.8 1415.9 851.6 1417.1 859.2 1418.4 858.8 1419.6 856.3 1420.8 854.3 1422.1 853.8 1423.3 850.3 1424.5 856.8 1425.7 851.1 1427.0 852.7 1428.2 857.7 1429.4 851.1 1430.7 852.3 1431.9 857.0 1433.1 858.2 1434.4 851.4 1435.6 857.5 1436.8 851.3 1438.1 854.8 1439.3 855.0 1440.5 849.2 1441.8 856.5 1443.0 857.1 1444.2 852.8 1445.4 853.3 1446.6 848.2 1447.8 856.3 1449.0 852.0 1450.2 847.2 1451.4 853.9 1452.6 846.7 1453.8 848.4 1455.0 846.1 1456.2 854.4 1457.4 854.2 1458.6 847.4 1459.8 847.0 1461.0 847.0 1462.1 846.7 1463.3 850.3 1464.5 852.4 1465.7 844.3 1466.9 849.0 1468.1 842.8 1469.3 851.1 1470.5 846.2 1471.7 843.9 1472.9 850.3 1474.1 845.3 1475.3 849.7 1476.5 848.9 1477.7 849.2 1478.9 841.9 1480.1 844.6 1481.3 845.5 1482.5 843.3 1483.7 848.1 1484.9 841.1 1486.1 846.8 1487.3 847.4 1488.5 838.6 1489.7 839.4 1490.9 839.4 1492.0 840.4 1493.2 843.4 1494.4 841.3 1495.6 841.9 1496.8 839.9 1498.0 841.0 1499.2 842.8 1500.4 843.5 1501.6 838.1 1502.8 840.2 1504.0 837.8 1505.2 839.6 1506.4 835.8 1507.6 843.2 1508.8 842.1 1509.9 839.2 1511.1 837.2 1512.3 837.8 1513.5 837.0 1514.7 834.9 1515.9 843.4 1517.1 843.3 1518.3 834.7 1519.5 834.8 1520.7 840.7 1522.0 840.8 1523.2 834.3 1524.4 834.3 1525.7 840.5 1526.9 834.3 1528.1 842.9 1529.4 837.0 1530.6 839.0 1531.9 838.7 1533.1 836.9 1534.3 838.4 1535.6 837.9 1536.8 843.2 1538.0 838.7 1539.3 839.0 1540.5 837.3 1541.7 837.0 1543.0 836.8 1544.2 839.4 1545.4 843.7 1546.7 843.3 1547.9 840.3 1549.2 843.8 1550.4 843.0 1551.6 840.3 1552.9 839.0 1554.1 835.8 1555.3 840.4 1556.6 838.4 1557.8 835.1 1559.0 835.0 1560.2 843.5 1561.5 839.9 1562.7 840.8 1564.0 839.6 1565.3 837.2 1566.6 840.2 1567.9 842.2 1569.2 837.3 1570.6 840.0 1571.9 841.6 1573.2 836.2 1574.5 838.3 1575.8 835.0 1577.1 839.4 1578.4 835.9 1579.7 840.9 1581.0 834.2 1582.2 840.9 1583.5 835.4 1584.7 833.4 1585.9 833.0 1587.0 838.2 1588.2 832.8 1589.3 839.9 1590.3 839.7 1591.4 837.0 1592.4 830.8 1593.4 834.9 1594.3 832.3 1595.2 830.4 1596.0 836.1 1598.2 838.6 1600.0 832.3 1601.6 836.8 1603.0 838.3 1604.1 830.6 1605.1 832.7 1606.1 834.7 1607.0 835.2 1607.9 829.5 1608.9 833.9 1610.0 832.3 1611.1 835.5 1612.1 827.4 1613.1 829.2 1614.1 828.8 1615.1 828.7 1616.1 831.6 1617.0 826.2 1618.0 831.9 1619.0 824.4 1619.9 828.9 1620.9 828.6 1621.9 827.6 1622.8 822.8 1623.8 819.9 1624.7 821.0 1625.6 823.4 1626.6 820.7 1627.5 821.4 1628.5 820.5 1629.4 814.6 1630.3 813.4 1631.2 820.0 1632.1 813.0 1633.0 809.3 1633.8 816.8 1634.5 808.7 1635.1 807.4 1635.8 812.9 1636.4 804.6 1637.1 804.4 1637.7 809.9 1638.3 802.3 1638.9 808.3 1639.5 803.2 1640.1 806.0 1640.7 801.0 1641.2 799.6 1641.8 796.1 1642.3 796.5 1642.8 794.5 1643.3 795.1 1643.9 796.6 1644.5 788.5 1645.0 788.5 1645.5 786.2 1646.0 793.8 1646.5 788.2 1646.9 787.3 1647.4 786.1 1647.8 788.6 1648.3 785.1 1648.7 785.7 1649.2 780.9 1649.6 780.1 1649.9 779.2 1650.3 774.0 1650.7 781.0 1651.1 771.8 1651.4 771.5 1651.8 776.1 1652.2 772.7 1652.6 774.2 1653.0 774.5 1653.3 773.3 1653.7 772.1 1654.1 765.8 1654.5 769.7 1654.8 761.2 1655.2 762.8 1655.6 765.3 1656.0 760.0 1656.4 759.1 1656.8 757.1 1657.2 761.4 1657.6 751.6 1658.0 759.0 1658.4 757.2 1658.7 752.1 1659.1 753.1 1659.5 746.7 1659.9 752.6 1660.3 751.9 1660.7 743.3 1661.1 749.6 1661.5 743.9 1661.9 741.7 1662.3 740.0 1662.7 739.8 1663.1 734.9 1663.5 733.6 1663.8 741.0 1664.2 735.4 1664.6 736.2 1665.0 734.2 1665.4 733.6 1665.8 726.6 1666.2 726.6 1666.6 731.1 1667.0 731.4 1667.7 722.5 1668.5 723.1 1669.2 720.2 1669.9 725.1 1670.7 723.0 1671.4 721.0 1672.2 717.8 1673.0 720.3 1674.0 718.1 1674.9 714.2 1676.0 716.6 1677.0 712.1 1678.0 716.8 1679.1 715.2 1680.1 710.6 1680.9 715.4 1681.7 714.2 1682.5 712.4 1683.4 712.8 1684.2 712.9 1685.0 714.5 1685.8 720.9 1686.6 725.1 1687.3 719.9 1688.0 723.7 1688.7 725.4 1689.4 728.0 1690.0 728.0 1690.6 731.8 1691.3 731.3 1691.9 727.2 1692.5 732.4 1693.2 727.9 1693.8 732.6 1694.4 734.4 1695.0 737.4 1695.6 735.4 1696.2 740.4 1696.8 743.0 1697.4 736.9 1698.0 739.1 1698.6 743.1 1699.2 745.2 1699.7 745.0 1700.1 748.4 1700.6 742.6 1701.0 750.5 1701.5 752.9 1701.9 753.9 1702.4 752.7 1702.8 751.6 1703.3 755.0 1703.7 754.6 1704.2 751.7 1704.6 755.1 1705.1 758.3 1705.5 757.7 1705.9 757.4 1706.4 760.9 1706.8 761.6 1707.2 764.2 1707.6 764.9 1708.0 766.8 1708.5 770.8 1708.9 769.0 1709.3 771.1 1709.7 766.6 1710.2 767.7 1710.6 771.8 1711.0 776.7 1711.4 774.4 1711.8 774.6 1712.2 773.7 1712.6 782.2 1713.0 778.6 1713.4 782.5 1713.8 786.8 1714.2 785.9 1714.6 789.6 1715.0 786.1 1715.4 791.0 1715.8 791.3 1716.2 787.8 1716.6 791.3 1717.0 790.3 1717.5 789.9 1718.0 795.7 1718.5 793.2 1719.0 801.3 1719.5 795.5 1720.0 797.2 1720.5 800.5 1721.0 799.4 1721.5 802.4 1722.0 801.1 1722.5 800.0 1723.0 801.0 1723.5 802.1 1724.0 811.8 1724.5 810.0 1724.9 810.1 1725.4 809.0 1725.8 811.1 1726.3 813.6 1726.9 809.4 1727.5 812.1 1728.1 812.9 1728.9 821.5 1729.5 814.5 1730.1 823.1 1730.8 818.4 1731.5 825.3 1732.2 821.8 1732.9 823.2 1733.7 828.4 1734.5 828.2 1735.3 829.5 1736.1 823.6 1736.9 832.3 1737.7 833.7 1738.5 830.1 1739.3 829.7 1740.0 828.6 1740.8 836.8 1741.6 835.3 1742.5 835.3 1743.3 832.0 1744.0 841.5 1744.8 841.1 1745.6 838.9 1746.4 844.2 1747.2 837.5 1748.1 844.7 1748.9 839.1 1749.8 847.8 1750.7 843.4 1751.7 849.5 1752.7 844.9 1753.6 848.5 1754.5 851.9 1755.5 845.7 1756.5 850.1 1757.6 847.8 1758.7 854.5 1759.8 850.5 1761.0 852.2 1762.1 853.8 1763.2 859.4 1764.3 852.7 1765.3 857.0 1766.3 856.8 1767.2 856.8 1768.1 856.7 1768.8 859.5 1769.5 861.2 1770.0 856.7" fill="none" stroke="#1868e0" stroke-width="11" stroke-linejoin="round" stroke-linecap="butt"/>
<path d="M233.0 844.1L233.5 832.0 234.1 843.1 234.9 854.5 235.7 835.7 236.6 844.3 237.5 843.5 238.5 855.1 239.5 843.2 240.6 837.3 241.7 838.3 242.8 851.6 243.9 853.1 244.9 861.1 246.0 848.1 246.9 859.2 247.7 845.0 248.6 865.8 249.6 855.2 250.5 850.8 251.4 859.0 252.4 869.1 253.3 852.0 254.3 849.5 255.3 852.3 256.2 851.9 257.2 862.2 258.2 866.4 259.1 862.8 260.1 866.6 261.1 875.6 262.0 863.8 263.1 856.4 264.3 857.0 265.4 870.2 266.5 863.0 267.6 867.1 268.8 873.1 269.9 874.0 271.0 860.2 272.2 863.1 273.3 872.1 274.4 870.7 275.5 881.9 276.7 868.7 277.8 863.1 278.9 883.6 280.1 864.2 281.2 867.1 282.4 878.9 283.5 867.6 284.6 887.0 285.8 879.4 286.9 882.4 288.1 875.0 289.2 889.3 290.4 884.1 291.5 874.5 292.7 891.0 293.8 871.3 294.9 877.2 296.1 884.8 297.2 884.1 298.4 875.8 299.5 894.0 300.6 894.5 301.8 877.5 302.9 888.4 304.0 880.9 305.2 883.0 306.3 894.8 307.4 888.4 308.6 887.1 309.7 889.3 310.8 879.8 312.0 899.3 313.1 884.3 314.2 900.7 315.4 887.8 316.5 888.4 317.6 902.5 318.8 894.8 319.9 888.8 321.0 890.2 322.2 899.7 323.3 905.3 324.5 900.8 325.6 893.4 326.8 888.2 328.1 892.2 329.3 896.9 330.5 900.1 331.8 893.5 333.0 908.7 334.2 891.9 335.4 894.1 336.7 903.8 337.9 904.0 339.1 897.6 340.4 908.4 341.6 891.7 342.8 911.2 344.1 911.6 345.3 911.9 346.5 903.5 347.7 912.5 348.9 903.7 350.2 913.1 351.4 902.3 352.6 905.6 353.8 908.4 355.0 895.2 356.3 903.4 357.5 914.8 358.7 896.1 360.0 908.7 361.2 913.0 362.4 908.7 363.7 907.9 364.9 916.1 366.1 909.4 367.3 897.7 368.6 900.2 369.8 905.3 371.0 908.9 372.3 904.8 373.5 907.7 374.6 918.2 375.8 899.9 376.9 918.2 378.0 917.1 379.2 915.1 380.3 911.2 381.4 912.0 382.6 914.7 383.7 914.3 384.9 907.7 386.0 919.3 387.1 907.9 388.3 914.2 389.4 912.3 390.5 906.9 391.7 920.2 392.8 915.7 394.0 908.1 395.1 916.5 396.3 908.4 397.4 927.1 398.5 922.1 399.7 927.9 400.8 915.0 402.0 924.6 403.1 912.8 404.3 914.0 405.4 919.8 406.6 923.6 407.9 927.5 409.1 919.1 410.3 929.1 411.5 928.2 412.7 915.1 414.0 920.2 415.2 915.0 416.4 930.5 417.6 917.7 418.9 928.0 420.1 928.4 421.3 920.2 422.5 918.7 423.7 924.8 425.0 917.0 426.2 913.8 427.4 916.0 428.6 925.4 429.9 924.5 431.1 932.2 432.3 914.8 433.5 927.3 434.7 915.9 436.0 932.3 437.2 929.3 438.4 925.5 439.7 933.6 440.9 922.6 442.1 921.8 443.4 918.4 444.6 921.5 445.8 927.1 447.0 931.2 448.3 935.5 449.5 925.2 450.7 922.3 452.0 925.2 453.2 924.7 454.4 924.5 455.7 925.0 456.9 921.7 458.1 927.2 459.3 924.0 460.5 926.3 461.8 918.8 463.0 928.2 464.2 931.0 465.4 931.5 466.7 923.5 467.9 919.7 469.1 919.1 470.2 920.0 471.4 924.0 472.5 926.6 473.6 920.8 474.8 934.2 475.9 921.9 477.0 926.4 478.2 926.8 479.3 937.7 480.4 941.1 481.6 931.0 482.7 932.1 483.9 931.8 485.0 933.5 486.2 934.1 487.5 943.9 488.7 928.7 489.9 935.4 491.1 931.3 492.4 939.0 493.6 933.5 494.8 940.9 496.1 930.4 497.3 945.9 498.5 939.4 499.8 930.2 501.0 943.3 502.1 936.2 503.3 932.2 504.5 943.0 505.6 937.3 506.8 946.0 507.9 938.2 509.1 948.1 510.2 943.8 511.4 945.7 512.5 945.0 513.7 942.2 514.8 942.7 515.9 948.4 517.0 950.5 518.2 943.9 519.4 955.0 520.5 955.4 521.7 940.7 522.9 955.2 524.0 948.3 525.2 950.7 526.3 944.7 527.4 957.9 528.5 945.3 529.6 950.3 530.7 946.7 531.7 959.5 533.0 959.8 534.2 944.7 535.4 950.2 536.6 955.6 537.7 951.1 538.9 951.9 540.0 947.9 541.1 956.4 542.2 948.6 543.4 960.8 544.6 963.8 545.7 954.6 546.9 964.7 548.0 959.8 549.2 954.0 550.4 956.4 551.5 953.2 552.7 960.1 553.8 964.0 555.0 965.8 556.2 959.1 557.4 954.1 558.5 961.2 559.7 969.5 560.9 964.2 562.1 962.5 563.3 955.9 564.4 961.2 565.6 967.2 566.8 958.9 568.1 972.2 569.4 961.9 570.7 960.5 572.0 962.5 573.2 965.6 574.5 972.2 575.8 963.4 577.1 959.5 578.4 966.4 579.7 969.7 581.0 973.8 582.3 960.0 583.6 973.2 584.9 969.6 586.2 967.9 587.5 960.7 588.8 959.8 590.1 959.1 591.4 969.4 592.8 965.2 594.2 969.7 595.7 970.6 597.0 963.5 598.4 962.9 599.6 969.1 600.8 956.7 601.8 960.2 602.9 960.0 603.8 959.7 604.5 960.9 605.2 957.3 605.8 961.9 606.4 954.0 607.0 953.2 607.2 951.4 607.4 950.7 607.6 953.6 607.8 952.7 608.0 950.0 608.2 950.8 608.4 949.2 608.6 945.9 608.7 945.5 608.9 944.9 609.1 944.9 609.3 941.1 609.5 940.9 609.7 939.7 609.8 939.1 610.0 936.8 610.2 936.2 610.4 932.3 610.5 931.9 610.7 929.4 610.9 929.6 611.1 929.9 611.2 927.5 611.4 926.1 611.6 925.0 611.8 923.6 612.0 920.6 612.1 920.0 612.3 919.3 612.5 918.5 612.7 916.0 612.8 915.6 613.0 913.6 613.2 911.8 613.3 911.3 613.5 909.8 613.7 910.6 613.8 909.8 614.0 907.8 614.2 905.7 614.3 904.1 614.5 902.0 614.7 901.7 614.8 902.7 615.0 901.4 615.2 899.0 615.4 897.2 615.5 896.2 615.7 895.5 615.9 893.8 616.1 893.1 616.3 890.5 616.5 890.3 616.6 888.6 616.8 889.1 617.0 885.2 617.2 887.0 617.3 884.2 617.5 882.5 617.7 881.9 617.9 880.8 618.0 879.1 618.2 878.6 618.4 876.1 618.6 874.1 618.7 875.2 618.8 873.1 619.0 873.4 619.1 871.0 619.3 867.7 619.4 869.3 619.6 865.7 619.7 865.8 619.9 865.2 620.0 863.7 620.1 859.8 620.3 859.6 620.4 856.9 620.6 858.0 620.7 856.6 620.9 853.6 621.0 854.3 621.2 853.8 621.4 852.7 621.5 850.0 621.7 849.2 622.4 846.0 623.0 843.4 623.7 843.5 624.5 842.1 625.2 843.4 626.0 843.3 626.2 843.2 626.4 842.7 626.6 846.4 626.8 846.0 627.1 846.7 627.3 846.6 627.5 847.7 627.8 850.9 628.0 850.2 628.2 853.4 628.4 854.8 628.7 855.0 628.9 855.4 629.1 858.8 629.4 861.3 629.6 860.3 629.8 861.3 630.0 865.5 630.2 865.8 630.4 866.3 630.6 869.9 630.8 869.4 631.0 871.5 631.2 871.7 631.3 872.5 631.5 874.8 631.7 874.8 631.8 875.5 632.0 877.6 632.1 880.8 632.3 881.9 632.4 883.3 632.5 884.2 632.7 885.7 632.8 885.7 632.9 886.1 633.1 888.4 633.2 887.9 633.3 891.1 633.4 891.0 633.6 893.0 633.7 892.9 633.8 895.0 633.9 897.5 634.1 897.3 634.2 898.0 634.3 900.3 634.4 902.3 634.5 902.2 634.6 902.3 634.7 903.4 634.9 904.7 634.9 908.7 635.0 908.6 635.1 910.6 635.2 912.5 635.3 912.9 635.4 914.4 635.5 914.5 635.6 914.8 635.7 918.3 635.8 918.7 635.9 920.7 636.0 920.0 636.1 922.3 636.2 925.2 636.4 923.9 636.5 926.1 636.6 928.7 636.8 928.0 636.9 929.6 637.1 929.3 637.3 933.1 637.5 933.0 637.7 936.3 637.9 936.1 638.2 937.0 638.4 939.3 638.6 939.7 638.9 940.6 639.1 944.4 639.4 945.3 639.6 945.1 639.9 947.5 640.1 948.7 640.4 949.5 640.7 949.6 641.0 950.7 641.3 952.5 641.6 953.9 642.0 954.9 642.4 954.1 642.9 956.6 643.3 959.2 643.7 956.6 644.2 960.5 644.7 964.0 645.2 963.3 645.7 963.0 646.2 964.8 646.7 964.2 647.3 970.5 647.9 966.3 648.6 963.2 649.5 964.3 650.4 971.7 651.5 972.2 652.5 969.4 653.6 965.9 654.7 972.2 655.8 969.3 657.0 970.5 658.1 974.3 659.2 970.7 660.3 976.6 661.6 971.6 662.9 973.4 664.2 974.7 665.5 982.5 666.8 982.5 668.1 980.8 669.4 972.3 670.7 976.2 672.0 980.8 673.3 980.2 674.6 969.6 675.9 975.8 677.2 972.2 678.4 979.6 679.7 979.0 681.0 973.0 682.3 982.0 683.6 974.2 684.9 982.0 686.2 974.7 687.5 975.0 688.8 982.0 690.1 972.8 691.4 973.2 692.7 982.0 694.0 975.4 695.3 977.9 696.6 969.3 697.9 982.0 699.2 980.5 700.4 977.4 701.7 979.2 703.0 973.1 704.3 973.3 705.6 969.1 707.0 977.4 708.2 981.7 709.5 979.6 710.7 979.8 712.0 978.5 713.2 970.0 714.5 968.1 715.8 977.5 717.2 975.0 718.6 978.9 720.0 972.4 721.1 969.1 722.3 975.7 723.5 970.5 724.7 966.7 725.9 970.0 727.2 968.7 728.5 967.2 729.7 970.1 731.0 977.4 732.3 979.0 733.5 978.8 734.8 970.2 736.0 977.9 737.2 971.7 738.5 973.9 739.7 968.5 740.9 971.3 742.1 965.1 743.3 977.9 744.6 967.6 745.8 974.2 747.0 968.3 748.2 972.4 749.5 965.1 750.7 968.8 751.9 975.1 753.1 973.3 754.3 963.6 755.6 974.2 756.8 963.2 758.0 970.8 759.2 971.7 760.5 965.6 761.7 967.1 762.9 967.0 764.1 970.1 765.3 972.4 766.6 974.0 767.8 968.9 769.0 973.5 770.3 962.1 771.5 973.1 772.7 965.1 774.0 970.1 775.2 965.4 776.4 966.3 777.6 961.1 778.9 967.5 780.1 971.7 781.3 966.0 782.6 964.9 783.8 965.0 785.0 968.3 786.3 963.8 787.5 964.6 788.7 965.6 789.9 970.8 791.1 969.1 792.4 959.1 793.6 961.3 794.8 964.3 796.0 968.4 797.3 969.0 798.5 963.2 799.7 970.4 800.9 963.4 802.1 970.4 803.4 970.4 804.6 970.4 805.8 965.1 807.0 966.9 808.3 957.7 809.5 957.8 810.7 961.2 811.9 967.6 813.1 969.3 814.4 963.6 815.6 969.2 816.8 966.9 818.1 970.4 819.3 957.8 820.5 960.2 821.8 959.3 823.0 959.1 824.2 970.3 825.4 959.7 826.7 959.9 827.9 962.2 829.1 968.3 830.4 961.9 831.6 967.7 832.8 966.9 834.1 961.2 835.3 958.2 836.5 960.2 837.7 959.1 838.9 971.3 840.2 962.0 841.4 960.3 842.6 967.5 843.8 966.0 845.0 961.4 846.3 971.1 847.5 970.1 848.7 966.9 850.0 961.8 851.2 960.7 852.4 958.4 853.7 966.1 854.9 965.7 856.1 958.9 857.3 963.1 858.6 968.6 859.8 956.8 861.0 955.4 862.3 964.1 863.5 958.8 864.7 958.4 866.0 963.4 867.3 959.7 868.7 964.9 870.0 962.5 871.3 965.5 872.6 960.4 873.9 953.5 875.1 965.6 876.3 953.2 877.4 964.0 878.4 960.0 879.4 952.4 880.8 958.1 882.0 961.1 883.0 951.1 883.9 955.3 884.7 950.5 885.6 948.5 886.5 949.2 887.4 957.4 888.5 954.0 889.7 950.0 890.8 949.2 892.0 949.7 893.1 949.9 894.3 948.9 895.4 941.3 896.4 951.1 897.4 942.0 898.4 939.3 899.4 948.0 900.3 938.3 901.3 942.5 902.3 942.1 903.3 939.0 904.4 943.8 905.4 939.5 906.5 939.3 907.5 935.6 908.7 938.4 909.9 934.0 911.3 938.0 912.0 943.1 912.8 940.9 913.6 937.3 914.4 928.2 915.2 937.9 916.1 936.2 917.0 936.6 917.9 923.4 918.8 928.3 919.7 925.6 920.6 931.2 921.5 920.3 922.3 922.6 923.2 929.9 924.0 928.2 925.2 917.4 926.3 923.7 927.3 930.2 928.4 922.2 929.4 928.9 930.4 927.6 931.5 922.2 932.7 926.1 933.9 934.9 935.2 935.6 936.3 927.3 937.5 935.0 938.7 926.1 940.0 929.9 941.4 928.1 942.7 921.7 944.1 928.4 945.4 924.5 946.7 919.9 948.0 921.7 949.1 921.7 950.2 921.7 951.2 921.6 951.9 923.3 952.5 921.3 953.1 932.1 953.6 929.3 954.1 931.1 954.6 929.9 955.0 932.6 955.4 932.4 955.9 929.7 956.2 930.2 956.6 937.8 957.0 943.4 957.4 941.2 957.8 947.4 958.2 936.8 958.6 942.7 959.1 942.1 959.6 951.8 960.0 953.3 960.5 946.3 960.9 953.3 961.3 950.1 961.7 947.8 962.2 953.2 962.6 950.1 963.0 962.0 963.5 960.0 964.0 963.7 964.5 961.1 965.1 954.4 965.7 964.9 966.4 962.3 967.1 956.6 968.1 963.5 969.2 968.1 970.4 969.5 971.7 958.9 973.0 967.2 974.4 965.0 975.7 962.5 977.1 961.7 978.4 965.2 979.7 965.2 980.9 965.4 982.0 960.5 983.0 956.7 984.6 968.6 985.9 968.7 987.0 960.6 988.0 963.4 988.9 967.9 989.9 959.3 991.0 968.8 991.5 973.1 992.0 969.4 992.5 966.0 993.0 976.0 993.5 971.4 994.0 973.5 994.6 971.9 995.1 975.9 995.6 970.5 996.1 971.9 996.6 973.2 997.1 984.4 997.6 981.1 998.0 988.0 998.5 978.1 999.0 982.3 999.5 992.1 1000.0 983.8 1000.5 982.8 1000.9 986.3 1001.4 989.3 1001.8 991.8 1002.2 998.7 1002.7 999.8 1003.2 1000.9 1003.8 999.0 1004.4 995.4 1005.2 996.6 1006.0 994.5 1006.5 1006.7 1007.1 1007.4 1007.7 1003.3 1008.3 1000.0 1009.0 1007.8 1009.7 1007.9 1010.4 1007.5 1011.1 1002.9 1011.9 1010.0 1012.6 1007.5 1013.4 1014.2 1014.2 1014.6 1015.0 1015.0 1015.7 1012.3 1016.5 1020.7 1017.3 1019.5 1018.1 1022.7 1018.9 1021.7 1019.7 1021.9 1020.4 1021.6 1021.2 1016.3 1021.9 1016.3 1022.8 1018.8 1023.8 1026.3 1024.7 1028.6 1025.6 1026.4 1026.6 1027.0 1027.5 1032.8 1028.4 1026.7 1029.4 1023.9 1030.3 1024.7 1031.2 1029.6 1032.2 1034.5 1033.1 1035.4 1034.1 1032.2 1035.0 1037.2 1035.9 1034.4 1036.9 1032.4 1037.8 1034.5 1038.9 1039.8 1039.9 1041.4 1041.0 1033.8 1042.1 1035.0 1043.1 1040.1 1044.2 1045.3 1045.3 1036.4 1046.3 1036.6 1047.4 1043.7 1048.5 1044.6 1049.5 1040.8 1050.6 1043.6 1051.7 1046.0 1052.7 1039.7 1053.8 1044.9 1055.0 1047.8 1056.3 1049.3 1057.5 1050.7 1058.7 1046.4 1059.9 1042.2 1061.1 1052.1 1062.4 1050.5 1063.6 1045.5 1064.8 1051.8 1066.0 1051.9 1067.3 1047.6 1068.5 1043.3 1069.7 1046.3 1070.8 1045.1 1072.0 1044.5 1073.1 1047.1 1074.2 1043.1 1075.4 1048.1 1076.5 1051.0 1077.6 1041.6 1078.8 1049.2 1079.9 1042.9 1081.0 1046.2 1082.2 1043.2 1083.3 1047.7 1084.5 1039.9 1085.6 1044.4 1086.5 1038.4 1087.5 1041.3 1088.5 1039.8 1089.5 1043.1 1090.4 1033.9 1091.4 1033.2 1092.4 1041.7 1093.4 1037.7 1094.4 1040.1 1095.4 1031.1 1096.3 1034.7 1097.3 1035.3 1098.2 1036.9 1099.1 1031.3 1099.9 1029.1 1100.8 1032.3 1101.6 1028.5 1102.4 1025.3 1103.2 1029.7 1104.0 1021.6 1104.8 1021.7 1105.5 1028.7 1106.3 1021.5 1107.0 1021.1 1107.6 1022.5 1108.3 1024.1 1109.0 1021.0 1109.6 1014.7 1110.3 1015.0 1110.9 1019.5 1111.5 1014.3 1112.1 1011.3 1112.7 1015.2 1113.1 1015.2 1113.6 1014.6 1114.0 1005.4 1114.4 1005.7 1114.9 1004.5 1115.3 1007.0 1115.7 1003.0 1116.0 1007.3 1116.4 997.9 1116.8 1004.4 1117.2 997.7 1117.5 997.8 1117.9 999.5 1118.3 997.0 1118.6 991.6 1119.0 998.3 1119.3 994.7 1119.7 990.0 1120.0 991.2 1120.4 985.7 1120.7 984.1 1121.1 986.1 1121.5 987.2 1121.9 985.1 1122.2 981.0 1122.6 978.2 1123.0 977.1 1123.3 984.8 1123.7 980.6 1124.0 975.6 1124.3 981.2 1124.7 977.9 1125.0 973.6 1125.4 971.8 1125.7 976.5 1126.1 972.5 1126.4 974.5 1126.7 970.1 1127.1 965.5 1127.4 964.5 1127.6 963.1 1127.9 965.2 1128.1 964.1 1128.4 964.2 1128.6 962.5 1128.9 956.4 1129.1 958.0 1129.4 954.4 1129.7 957.9 1129.9 950.8 1130.2 951.9 1130.4 949.8 1130.7 949.3 1130.9 949.3 1131.2 953.2 1131.5 946.8 1131.7 942.1 1132.0 944.2 1132.2 946.5 1132.5 944.6 1132.7 942.4 1133.0 944.7 1133.2 942.9 1133.5 938.3 1133.8 940.9 1134.0 931.3 1134.3 933.8 1134.6 930.2 1134.8 932.4 1135.1 934.9 1135.4 927.7 1135.6 932.4 1135.9 923.5 1136.2 929.9 1136.4 920.1 1136.7 920.4 1137.0 925.2 1137.2 920.4 1137.5 920.0 1137.8 918.3 1138.0 917.7 1138.3 915.4 1138.6 911.6 1138.8 912.7 1139.1 912.9 1139.4 908.5 1139.6 911.9 1139.9 913.6 1140.2 903.7 1140.6 904.8 1140.9 904.3 1141.3 904.0 1141.6 903.0 1141.9 899.1 1142.3 900.2 1142.6 899.1 1143.0 897.6 1143.3 901.0 1143.6 896.0 1144.0 890.2 1144.3 889.1 1144.7 894.1 1145.1 890.0 1145.4 888.0 1145.8 884.7 1146.2 886.8 1146.7 886.2 1147.1 882.9 1147.6 882.5 1148.1 885.0 1148.6 883.1 1149.1 880.8 1149.6 877.0 1150.1 871.9 1150.6 877.2 1151.1 877.6 1151.6 876.4 1152.2 875.0 1152.7 871.4 1153.2 871.1 1153.7 869.5 1154.2 873.5 1154.7 868.8 1155.2 874.3 1155.7 873.3 1156.2 870.6 1156.7 872.6 1157.2 869.7 1157.7 872.7 1158.2 875.5 1158.6 882.1 1159.1 876.9 1159.6 883.9 1160.1 882.8 1160.5 883.1 1161.0 887.5 1161.4 882.8 1161.8 891.2 1162.2 893.5 1162.6 891.6 1163.0 891.6 1163.4 893.5 1163.7 896.2 1164.0 893.6 1164.4 896.6 1164.7 898.9 1165.0 897.3 1165.2 900.8 1165.5 901.8 1165.8 904.1 1166.1 899.9 1166.4 902.6 1166.7 904.3 1167.0 910.7 1167.2 908.9 1167.5 905.1 1167.7 906.3 1167.9 915.6 1168.2 913.8 1168.4 909.9 1168.6 912.3 1168.9 916.9 1169.1 921.8 1169.4 923.1 1169.6 919.2 1169.8 920.7 1170.1 926.9 1170.3 921.1 1170.5 929.5 1170.8 927.8 1171.0 928.3 1171.2 933.3 1171.5 932.0 1171.7 929.1 1172.0 928.9 1172.2 934.2 1172.5 937.0 1172.7 940.7 1173.0 933.8 1173.2 943.1 1173.5 942.2 1173.7 945.5 1174.0 945.1 1174.2 944.5 1174.5 946.4 1174.7 947.5 1175.0 945.5 1175.2 948.3 1175.5 950.3 1175.7 949.7 1176.0 948.3 1176.2 949.5 1176.5 956.4 1176.7 957.6 1177.0 957.5 1177.2 954.8 1177.4 962.3 1177.7 959.7 1177.9 958.1 1178.1 967.4 1178.3 960.6 1178.6 969.8 1178.8 968.8 1179.0 967.0 1179.3 965.6 1179.5 968.7 1179.7 976.1 1180.0 977.3 1180.2 975.4 1180.5 971.8 1180.8 975.9 1181.0 977.4 1181.3 980.9 1181.6 980.3 1181.9 983.0 1182.2 979.2 1182.5 982.5 1182.8 989.6 1183.1 983.0 1183.4 991.0 1183.7 993.4 1184.1 992.6 1184.4 987.9 1184.7 996.9 1185.1 990.4 1185.4 996.6 1185.7 995.5 1186.1 1001.6 1186.4 1002.6 1186.7 1000.7 1187.1 1005.2 1187.4 1005.3 1187.7 1001.9 1188.1 1001.8 1188.5 1010.2 1188.9 1006.5 1189.3 1010.4 1189.7 1010.3 1190.1 1010.6 1190.5 1009.6 1191.0 1014.4 1191.4 1015.7 1191.8 1020.2 1192.2 1016.7 1192.6 1015.3 1193.1 1016.7 1193.5 1020.4 1194.0 1021.7 1194.9 1023.3 1195.9 1019.4 1196.9 1020.9 1197.9 1018.2 1198.9 1020.0 1200.0 1014.7 1201.0 1014.4 1202.0 1015.5 1202.7 1017.8 1203.5 1012.1 1204.2 1014.2 1205.0 1015.8 1205.7 1014.0 1206.5 1022.9 1207.2 1023.6 1207.9 1021.9 1208.6 1027.0 1209.3 1028.2 1210.0 1029.5 1210.6 1030.5 1211.1 1030.5 1211.6 1025.1 1212.0 1033.7 1212.5 1032.2 1212.9 1028.6 1213.4 1033.3 1213.9 1036.5 1214.4 1038.3 1215.0 1037.2 1215.7 1036.5 1216.4 1041.5 1216.9 1038.0 1217.4 1040.9 1218.0 1044.3 1218.6 1039.4 1219.2 1045.3 1219.8 1041.6 1220.4 1043.8 1221.1 1044.0 1221.8 1048.4 1222.4 1051.8 1223.1 1050.7 1223.8 1054.6 1224.6 1053.3 1225.3 1053.4 1226.0 1056.4 1226.8 1055.3 1227.5 1057.2 1228.2 1060.6 1229.0 1056.8 1230.0 1062.6 1231.1 1057.1 1232.2 1060.4 1233.3 1058.1 1234.5 1060.9 1235.6 1066.6 1236.8 1064.5 1238.0 1067.6 1239.1 1061.0 1240.3 1062.2 1241.5 1066.7 1242.7 1068.0 1243.8 1068.4 1245.0 1062.9 1246.2 1068.1 1247.4 1066.7 1248.5 1067.4 1249.7 1068.4 1250.8 1066.4 1251.9 1063.7 1253.1 1064.3 1254.3 1063.7 1255.5 1063.6 1256.8 1066.8 1258.1 1070.6 1259.5 1065.2 1261.0 1065.1 1262.0 1064.1 1263.1 1063.8 1264.3 1067.5 1265.4 1066.1 1266.7 1066.8 1267.9 1064.9 1269.2 1068.9 1270.5 1064.4 1271.8 1069.2 1273.1 1066.0 1274.4 1070.0 1275.7 1065.5 1277.0 1069.2 1278.3 1069.3 1279.5 1067.9 1280.7 1071.8 1281.9 1068.8 1283.0 1065.9 1284.0 1070.3 1285.0 1066.2 1286.6 1067.1 1288.1 1068.8 1289.4 1069.5 1290.6 1072.7 1291.8 1065.7 1292.9 1068.8 1294.0 1072.8 1295.2 1069.3 1296.4 1070.7 1297.7 1073.5 1299.1 1066.5 1300.2 1070.0 1301.3 1072.0 1302.4 1068.1 1303.5 1066.0 1304.7 1066.7 1305.9 1069.9 1307.2 1069.8 1308.4 1072.7 1309.6 1072.5 1310.9 1065.2 1312.1 1071.5 1313.4 1071.0 1314.6 1071.9 1315.9 1067.8 1317.1 1066.5 1318.3 1068.4 1319.6 1071.5 1320.9 1069.6 1322.2 1071.4 1323.5 1070.0 1324.8 1066.2 1326.1 1065.0 1327.4 1071.4 1328.7 1064.2 1330.0 1066.8 1331.3 1066.8 1332.6 1065.1 1333.8 1066.0 1335.0 1067.4 1336.2 1070.8 1337.4 1066.8 1338.7 1065.2 1340.0 1066.7 1341.2 1068.6 1342.5 1063.3 1343.7 1064.0 1344.8 1061.0 1346.0 1066.1 1347.1 1065.5 1348.3 1066.6 1349.4 1059.0 1350.5 1065.3 1351.6 1063.5 1352.7 1059.5 1353.7 1058.5 1354.6 1057.9 1355.5 1054.5 1356.5 1059.1 1357.4 1054.3 1358.3 1053.0 1359.3 1055.4 1360.2 1053.3 1361.0 1050.3 1361.9 1050.4 1362.8 1048.8 1363.6 1053.0 1364.4 1051.6 1365.2 1046.2 1366.0 1047.8 1367.4 1051.3 1368.6 1047.1 1369.8 1052.1 1370.9 1050.5 1372.0 1052.0 1373.2 1047.3 1374.3 1053.8 1375.6 1052.7 1376.7 1053.2 1377.7 1052.5 1378.9 1052.1 1380.0 1048.5 1381.1 1051.8 1382.3 1048.8 1383.5 1045.2 1384.6 1044.9 1385.9 1048.1 1387.1 1048.8 1387.9 1044.7 1388.8 1045.2 1389.7 1052.4 1390.5 1050.2 1391.4 1054.7 1392.3 1048.5 1393.2 1052.4 1394.1 1052.5 1395.0 1056.7 1396.0 1059.8 1396.9 1060.8 1397.8 1055.3 1398.7 1062.4 1399.6 1056.3 1400.5 1061.2 1401.7 1061.5 1402.9 1063.3 1404.0 1059.9 1405.1 1066.2 1406.3 1062.8 1407.4 1063.3 1408.6 1062.8 1409.8 1060.8 1411.1 1066.0 1412.5 1065.0 1413.9 1065.5 1414.9 1067.8 1416.0 1061.8 1417.1 1063.4 1418.3 1064.1 1419.4 1066.4 1420.6 1063.4 1421.9 1066.3 1423.1 1064.8 1424.3 1059.8 1425.6 1061.3 1426.8 1059.4 1428.1 1062.0 1429.3 1061.5 1430.6 1064.1 1431.8 1062.8 1433.0 1062.0 1434.3 1065.6 1435.5 1063.6 1436.8 1058.4 1438.1 1059.7 1439.4 1062.5 1440.6 1065.0 1441.9 1060.8 1443.2 1060.7 1444.5 1061.8 1445.7 1063.1 1447.0 1060.6 1448.3 1061.5 1449.5 1059.4 1450.8 1058.9 1452.1 1058.1 1453.3 1062.0 1454.5 1058.5 1455.7 1061.5 1456.9 1061.0 1458.1 1062.6 1459.3 1056.2 1460.5 1057.0 1461.7 1056.2 1462.9 1059.0 1464.1 1061.6 1465.3 1062.9 1466.5 1062.7 1467.7 1062.6 1468.9 1059.9 1470.1 1057.5 1471.3 1059.9 1472.5 1054.5 1473.7 1060.5 1474.9 1057.6 1476.1 1059.0 1477.3 1054.0 1478.5 1053.5 1479.7 1054.4 1480.9 1055.7 1482.0 1056.4 1483.2 1054.1 1484.4 1055.7 1485.6 1056.2 1486.8 1050.6 1488.0 1053.2 1489.2 1049.5 1490.4 1051.2 1491.6 1054.8 1492.8 1049.9 1494.0 1055.0 1495.2 1052.4 1496.4 1053.0 1497.6 1050.3 1498.8 1052.0 1499.9 1052.1 1501.1 1048.9 1502.3 1046.7 1503.5 1046.2 1504.7 1050.9 1505.9 1046.4 1507.1 1045.3 1508.3 1044.3 1509.5 1042.4 1510.7 1044.4 1511.9 1046.5 1513.1 1044.1 1514.3 1043.2 1515.5 1046.4 1516.7 1046.5 1517.9 1043.9 1519.1 1046.0 1520.3 1042.4 1521.5 1047.5 1522.7 1042.3 1523.9 1044.2 1525.1 1045.5 1526.3 1043.9 1527.5 1041.8 1528.7 1048.6 1530.0 1048.5 1531.3 1041.3 1532.5 1045.2 1533.8 1041.2 1535.1 1045.6 1536.3 1041.0 1537.6 1046.2 1538.9 1046.0 1540.2 1048.1 1541.4 1047.8 1542.7 1043.1 1544.0 1046.9 1545.3 1042.9 1546.5 1043.8 1547.8 1042.7 1549.1 1040.5 1550.3 1045.7 1551.6 1040.4 1552.9 1043.4 1554.2 1045.6 1555.4 1044.4 1556.7 1040.5 1558.0 1042.3 1559.3 1046.0 1560.5 1047.2 1561.8 1047.6 1563.1 1040.2 1564.4 1044.9 1565.6 1042.1 1566.9 1045.2 1568.0 1039.1 1569.2 1041.8 1570.3 1043.6 1571.5 1039.2 1572.6 1039.2 1573.8 1036.7 1575.0 1041.8 1576.1 1034.3 1577.3 1034.6 1578.4 1035.4 1579.5 1034.8 1580.7 1038.6 1581.8 1035.3 1582.9 1031.7 1583.9 1035.4 1585.0 1034.6 1586.0 1034.4 1587.1 1033.6 1588.1 1035.5 1589.1 1031.4 1590.1 1032.0 1591.1 1035.0 1592.1 1033.9 1593.1 1039.9 1594.0 1042.6 1594.9 1043.5 1595.9 1042.3 1596.8 1043.0 1597.7 1041.1 1598.6 1040.3 1599.5 1046.3 1600.4 1041.8 1601.3 1046.9 1602.6 1046.3 1603.9 1049.5 1605.1 1048.1 1606.3 1048.8 1607.5 1047.3 1608.7 1045.7 1609.9 1048.6 1611.1 1051.7 1612.3 1052.8 1613.5 1053.5 1614.7 1047.0 1615.8 1047.0 1617.0 1051.3 1618.1 1047.6 1619.3 1052.0 1620.5 1048.7 1621.6 1043.6 1622.8 1045.0 1623.9 1049.5 1625.0 1041.6 1626.1 1044.9 1627.1 1040.2 1628.1 1046.7 1629.2 1041.1 1630.3 1038.7 1631.4 1037.2 1632.4 1038.1 1633.3 1035.7 1634.3 1037.1 1635.2 1041.2 1636.1 1036.9 1636.9 1034.8 1637.7 1031.2 1638.3 1034.5 1638.9 1031.2 1639.4 1029.1 1639.9 1033.9 1640.4 1030.4 1640.9 1025.5 1641.4 1030.4 1641.8 1025.4 1642.3 1025.7 1642.8 1023.4 1643.3 1025.0 1643.9 1022.0 1644.4 1018.3 1644.8 1020.2 1645.3 1016.0 1645.8 1016.4 1646.3 1018.6 1646.9 1010.9 1647.4 1009.8 1647.9 1010.4 1648.5 1009.0 1649.0 1012.8 1649.5 1004.4 1650.0 1010.3 1650.5 1009.1 1651.0 1002.9 1651.5 1003.4 1652.0 1000.6 1652.4 1002.4 1652.7 1001.3 1653.1 1000.5 1653.4 999.4 1653.8 999.7 1654.1 994.5 1654.4 995.8 1654.8 992.1 1655.1 991.6 1655.4 990.9 1655.7 988.9 1656.0 988.8 1656.4 984.2 1656.7 985.0 1657.0 982.5 1657.3 979.7 1657.6 979.7 1658.0 979.1 1658.3 978.8 1658.6 974.4 1658.9 976.1 1659.2 972.6 1659.5 972.3 1659.8 974.0 1660.1 975.4 1660.4 971.9 1660.7 968.5 1661.0 967.5 1661.3 971.1 1661.6 962.7 1661.9 968.4 1662.2 960.4 1662.5 961.0 1662.8 961.7 1663.1 959.7 1663.4 962.8 1663.6 959.3 1663.9 956.6 1664.2 958.3 1664.5 954.5 1664.7 950.9 1665.0 955.2 1665.3 954.4 1665.5 953.2 1665.8 945.1 1666.0 950.9 1666.2 944.9 1666.5 947.0 1666.7 947.1 1666.9 946.1 1667.2 937.7 1667.4 937.3 1667.6 942.3 1667.8 939.2 1668.0 935.7 1668.3 931.8 1668.5 935.5 1668.7 932.5 1668.9 928.3 1669.1 934.3 1669.3 925.9 1669.6 926.8 1669.8 927.2 1670.0 926.7 1670.2 926.9 1670.5 922.8 1670.7 919.8 1670.9 920.2 1671.1 916.4 1671.3 915.6 1671.6 921.2 1671.8 914.5 1672.0 915.0 1672.2 917.6 1672.4 915.8 1672.6 912.0 1672.9 912.5 1673.1 908.5 1673.3 905.5 1673.5 909.7 1673.8 906.0 1674.0 908.0 1674.3 902.5 1674.5 901.0 1674.8 901.8 1675.1 899.1 1675.3 897.6 1675.6 894.8 1675.9 896.8 1676.2 895.8 1676.5 897.3 1676.7 892.5 1677.0 887.7 1677.3 891.5 1677.6 892.5 1677.9 886.5 1678.2 884.3 1678.6 884.9 1678.9 880.6 1679.2 882.0 1679.5 881.2 1679.8 877.0 1680.1 881.0 1680.4 875.8 1680.7 873.4 1681.0 873.8 1681.3 876.5 1681.6 877.0 1681.9 875.6 1682.2 871.2 1682.5 867.7 1682.8 866.9 1683.1 868.8 1683.4 863.0 1683.7 864.1 1684.0 864.1 1684.3 857.3 1684.6 856.7 1684.9 858.2 1685.2 855.6 1685.5 854.0 1685.8 851.7 1686.1 852.0 1686.5 854.9 1686.8 854.2 1687.1 846.5 1687.5 849.8 1687.8 849.8 1688.2 849.6 1688.6 846.2 1689.0 850.0 1689.5 851.5 1689.9 850.0 1690.4 853.8 1690.8 850.5 1691.3 851.8 1691.8 857.1 1692.2 859.4 1692.7 859.4 1693.1 860.1 1693.6 863.5 1694.0 867.6 1694.5 868.6 1694.9 867.3 1695.3 867.6 1695.6 873.3 1696.0 873.0 1696.4 875.2 1696.7 873.1 1697.0 872.7 1697.3 876.8 1697.6 875.7 1697.9 881.9 1698.1 882.3 1698.4 877.5 1698.7 884.1 1698.9 887.0 1699.2 887.6 1699.4 884.5 1699.6 884.6 1699.9 891.0 1700.1 892.4 1700.4 891.0 1700.6 888.8 1700.9 889.8 1701.1 895.3 1701.4 893.3 1701.6 894.9 1701.8 899.2 1702.0 902.1 1702.3 896.7 1702.5 899.6 1702.7 906.3 1703.0 903.8 1703.2 904.2 1703.4 908.2 1703.6 904.4 1703.9 905.4 1704.1 910.1 1704.3 914.9 1704.6 915.4 1704.8 913.7 1705.0 917.8 1705.2 915.1 1705.5 914.1 1705.7 915.1 1705.9 920.7 1706.1 923.6 1706.4 923.3 1706.6 923.4 1706.8 923.6 1707.0 929.0 1707.3 927.0 1707.5 924.8 1707.7 933.2 1707.9 929.0 1708.1 933.2 1708.4 933.4 1708.6 937.6 1708.8 936.5 1709.0 940.5 1709.3 938.9 1709.5 938.2 1709.7 939.3 1709.9 943.8 1710.2 940.8 1710.4 946.9 1710.6 944.8 1710.8 944.1 1711.1 945.5 1711.3 948.8 1711.5 954.0 1711.7 953.8 1712.0 952.8 1712.2 951.4 1712.4 958.8 1712.6 955.6 1712.8 957.6 1713.1 957.5 1713.3 963.5 1713.5 961.6 1713.7 961.0 1714.0 964.0 1714.2 961.9 1714.5 962.9 1714.7 966.6 1715.0 964.7 1715.2 972.8 1715.5 974.3 1715.8 968.7 1716.0 972.6 1716.3 970.6 1716.6 975.9 1716.8 977.1 1717.1 979.8 1717.4 975.3 1717.7 978.4 1718.0 979.4 1718.3 981.7 1718.5 987.2 1718.8 984.2 1719.1 985.8 1719.5 985.7 1719.8 990.6 1720.1 993.1 1720.4 994.0 1720.7 995.5 1721.0 990.1 1721.3 997.3 1721.7 995.6 1722.0 1000.2 1722.3 1000.8 1722.6 1000.9 1723.0 996.6 1723.3 1001.8 1723.6 1001.2 1723.9 1005.1 1724.2 1005.2 1724.6 1009.3 1724.9 1003.9 1725.2 1006.7 1725.6 1009.8 1725.9 1012.1 1726.3 1011.3 1726.6 1013.5 1727.0 1015.0 1727.3 1019.0 1727.7 1016.8 1728.1 1019.0 1728.5 1015.8 1728.9 1016.9 1729.3 1018.0 1729.7 1023.6 1730.1 1020.0 1730.6 1026.0 1731.2 1025.8 1731.8 1027.3 1732.4 1026.4 1733.0 1028.4 1733.6 1033.0 1734.2 1032.7 1734.9 1032.7 1735.5 1032.4 1736.1 1035.4 1736.8 1039.2 1737.5 1036.7 1738.1 1036.7 1738.8 1035.4 1739.5 1039.9 1740.1 1037.9 1740.8 1037.8 1741.5 1044.8 1742.3 1041.6 1743.1 1040.7 1744.0 1043.3 1744.8 1049.8 1745.6 1046.8 1746.5 1044.4 1747.3 1045.7 1748.2 1051.7 1749.0 1051.6 1749.9 1051.9 1750.8 1051.5 1751.7 1054.2 1752.6 1057.3 1753.6 1055.9 1754.5 1054.8 1755.4 1052.5 1756.4 1058.2 1757.5 1061.3 1758.6 1060.4 1759.7 1055.9 1760.8 1060.8 1761.9 1064.7 1763.1 1060.2 1764.2 1064.2 1765.2 1067.0 1766.2 1067.9 1767.2 1061.3 1768.0 1061.9 1768.8 1067.2 1769.5 1068.6 1770.0 1066.0" fill="none" stroke="#33ad63" stroke-width="11" stroke-linejoin="round" stroke-linecap="butt"/>
<text id="al" class="t" x="269" y="208.4" font-family="Liberation Serif, Times New Roman, serif" font-size="79" fill="#515151" >Al<tspan font-size="53" dy="20">2</tspan><tspan dy="-20">O</tspan><tspan font-size="53" dy="20">3</tspan></text>
<text id="tai" class="t" x="272" y="421.5" font-family="Liberation Serif, Times New Roman, serif" font-weight="bold" font-size="75" fill="#f24141" >TA-I</text>
<text id="tacp" class="t" x="272" y="633.2" font-family="Liberation Serif, Times New Roman, serif" font-weight="bold" font-size="76" fill="#1868e0" >TA-CP</text>
<text id="taht" class="t" x="0" y="0" font-family="Liberation Serif, Times New Roman, serif" font-weight="bold" font-size="76" fill="#33ad63" transform="translate(272,855.6) scale(1.01,1.05)">TA-HT</text>
<text id="ana" class="t" x="333.5" y="1067" font-family="Liberation Serif, Times New Roman, serif" font-weight="bold" font-size="75" fill="#ac6ad6" >Anatase</text>
<text id="gam" class="t" x="367" y="1177.4" font-family="Liberation Serif, Times New Roman, serif" font-weight="bold" font-size="75" fill="#cc9900" >&#947;-Al<tspan font-size="50" dy="22">2</tspan><tspan dy="-22">O</tspan><tspan font-size="50" dy="22">3</tspan></text>
<text id="xt" class="t" x="0" y="0" font-family="Liberation Serif, Times New Roman, serif" font-weight="bold" font-size="104.5" fill="#000" transform="translate(653,1509.5) scale(1.017,1)">2 Theta, degree</text>
<text id="yt" class="t" x="0" y="0" font-family="Liberation Serif, Times New Roman, serif" font-weight="bold" font-size="105.6" fill="#000" transform="translate(127,1239.5) rotate(-90)">Relative intensity, a.u.</text>
<text id="k10" class="t" x="0" y="0" font-family="Liberation Serif, Times New Roman, serif" font-weight="bold" font-size="78" fill="#000" text-anchor="middle" transform="translate(231.0,1415.6) scale(1.05,1)">10</text>
<text id="k20" class="t" x="0" y="0" font-family="Liberation Serif, Times New Roman, serif" font-weight="bold" font-size="78" fill="#000" text-anchor="middle" transform="translate(487.3,1415.6) scale(1.05,1)">20</text>
<text id="k30" class="t" x="0" y="0" font-family="Liberation Serif, Times New Roman, serif" font-weight="bold" font-size="78" fill="#000" text-anchor="middle" transform="translate(743.7,1415.6) scale(1.05,1)">30</text>
<text id="k40" class="t" x="0" y="0" font-family="Liberation Serif, Times New Roman, serif" font-weight="bold" font-size="78" fill="#000" text-anchor="middle" transform="translate(1000.0,1415.6) scale(1.05,1)">40</text>
<text id="k50" class="t" x="0" y="0" font-family="Liberation Serif, Times New Roman, serif" font-weight="bold" font-size="78" fill="#000" text-anchor="middle" transform="translate(1256.3,1415.6) scale(1.05,1)">50</text>
<text id="k60" class="t" x="0" y="0" font-family="Liberation Serif, Times New Roman, serif" font-weight="bold" font-size="78" fill="#000" text-anchor="middle" transform="translate(1512.7,1415.6) scale(1.05,1)">60</text>
<text id="k70" class="t" x="0" y="0" font-family="Liberation Serif, Times New Roman, serif" font-weight="bold" font-size="78" fill="#000" text-anchor="middle" transform="translate(1769.0,1415.6) scale(1.05,1)">70</text>
</svg>
</body></html>
